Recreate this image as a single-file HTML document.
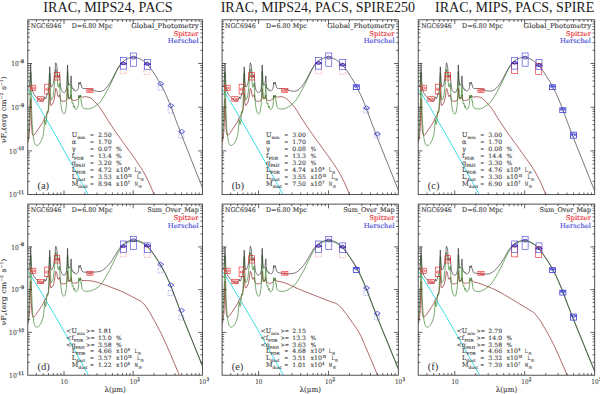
<!DOCTYPE html>
<html lang="en"><head><meta charset="utf-8"><title>NGC6946 SED fits</title>
<style>html,body{margin:0;padding:0;background:#fff}body{width:600px;height:394px;overflow:hidden}svg text{white-space:pre;stroke-width:.1px;paint-order:stroke fill}</style></head>
<body>
<svg width="600" height="394" viewBox="0 0 600 394" font-family="DejaVu Serif, DejaVu Sans, Liberation Serif, serif" style="display:block">
<rect width="600" height="394" fill="#fff"/>
<text x="43.3" y="12.3" font-family="'Liberation Serif',serif" font-size="14.4" fill="#1a1a1a" textLength="129.4" lengthAdjust="spacingAndGlyphs">IRAC, MIPS24, PACS</text>
<text x="220.7" y="12.3" font-family="'Liberation Serif',serif" font-size="14.4" fill="#1a1a1a" textLength="194.3" lengthAdjust="spacingAndGlyphs">IRAC, MIPS24, PACS, SPIRE250</text>
<text x="435.0" y="12.3" font-family="'Liberation Serif',serif" font-size="14.4" fill="#1a1a1a" textLength="159.3" lengthAdjust="spacingAndGlyphs">IRAC, MIPS, PACS, SPIRE</text>
<clipPath id="c00"><rect x="27.8" y="19.8" width="174.6" height="174.8"/></clipPath>
<g clip-path="url(#c00)">
<path d="M27.8,88.7 L33.5,97.7 L39.6,107.7 L53.6,131.7 L70.4,161.8 L91.4,200.5" fill="none" stroke="#27d9e4" stroke-width="0.9" stroke-linejoin="round"/>
<path d="M27.8,142.6 L28.4,140.4 L28.9,137.8 L29.5,131.0 L29.9,122.6 L30.5,102.1 L30.7,98.5 L31.4,121.4 L31.8,129.1 L32.1,132.3 L32.4,134.0 L32.9,135.0 L33.4,135.3 L34.2,134.9 L35.5,133.4 L42.2,123.2 L43.8,120.3 L44.7,117.2 L44.9,117.1 L45.3,117.3 L45.8,116.8 L46.4,115.4 L47.1,112.9 L47.2,112.7 L47.6,112.6 L48.0,112.0 L48.5,109.8 L48.9,106.5 L49.7,93.6 L49.8,94.2 L50.4,102.7 L50.8,105.2 L51.0,105.5 L51.2,105.5 L52.9,103.3 L53.7,101.2 L54.4,98.0 L54.9,94.7 L55.5,89.5 L55.8,88.4 L56.8,90.2 L57.5,94.9 L57.9,96.4 L58.2,96.6 L58.8,96.4 L59.4,94.7 L59.5,94.7 L60.2,98.5 L60.5,99.7 L61.1,100.7 L62.0,101.2 L63.2,101.3 L65.2,101.1 L66.2,100.4 L66.6,99.9 L66.9,98.6 L67.1,96.7 L67.5,88.5 L68.2,96.9 L68.5,98.4 L68.8,99.0 L69.5,98.7 L70.0,99.0 L70.3,98.8 L70.6,97.7 L71.1,94.9 L71.5,98.4 L71.9,99.9 L72.3,100.3 L73.0,100.1 L73.8,100.7 L74.1,100.7 L74.5,100.4 L75.0,100.6 L75.6,100.5 L77.6,99.4 L78.1,98.9 L78.5,98.4 L78.9,96.4 L79.0,96.3 L79.2,96.9 L79.3,97.0 L79.9,96.2 L80.3,96.0 L80.5,95.7 L81.0,96.7 L81.1,96.8 L81.4,96.6 L81.7,97.0 L82.1,97.2 L82.8,97.2 L85.1,96.7 L86.2,96.7 L88.0,97.0 L89.6,97.5 L91.4,98.5 L93.3,100.2 L97.3,104.4 L100.0,107.8 L101.6,110.0 L107.7,120.0 L115.1,131.2 L121.6,140.3 L133.5,156.8 L140.5,167.1 L142.6,170.5 L145.2,175.0 L148.7,181.9 L152.4,190.4 L156.1,200.5" fill="none" stroke="#8f2b2b" stroke-width="0.7" stroke-linejoin="round"/>
<path d="M27.8,140.5 L28.7,130.7 L29.4,118.3 L29.9,101.6 L30.5,76.3 L30.7,72.4 L31.7,112.3 L32.2,123.4 L32.7,131.5 L33.4,138.1 L34.3,142.4 L34.9,143.8 L35.5,144.9 L36.1,145.4 L36.9,145.5 L37.7,145.3 L38.4,144.8 L40.0,143.1 L41.4,140.5 L42.6,137.4 L43.3,134.7 L43.7,131.7 L44.7,119.4 L44.9,119.7 L45.5,124.3 L45.6,124.5 L45.7,124.4 L46.0,123.4 L46.4,120.0 L47.0,112.0 L47.1,111.6 L47.1,111.4 L47.2,111.4 L47.6,112.8 L47.7,112.9 L47.8,112.9 L48.0,111.5 L48.3,108.7 L48.8,98.7 L49.7,73.3 L49.9,75.9 L50.6,94.8 L50.8,98.4 L51.1,99.9 L51.2,100.1 L51.4,100.0 L51.9,98.9 L52.7,98.0 L53.0,96.9 L53.3,95.1 L54.5,84.4 L55.5,70.7 L55.7,69.5 L55.7,69.2 L55.9,69.2 L56.8,72.5 L57.6,83.8 L58.0,86.4 L58.2,87.1 L58.6,87.1 L58.8,87.0 L59.3,83.6 L59.4,83.2 L59.5,83.4 L60.6,101.1 L61.0,105.2 L61.5,108.5 L62.0,110.9 L62.6,112.5 L63.3,113.6 L63.7,113.8 L64.0,113.9 L64.4,113.7 L64.7,113.3 L65.4,111.8 L66.3,106.4 L66.5,104.5 L67.0,93.3 L67.5,71.6 L68.3,92.6 L68.7,98.0 L68.8,98.5 L69.0,98.5 L69.5,97.3 L70.0,98.3 L70.2,97.7 L70.5,94.1 L71.1,84.7 L71.6,96.7 L72.0,102.0 L72.3,103.6 L72.5,103.6 L72.9,103.0 L73.0,103.1 L73.8,107.3 L74.0,107.4 L74.1,107.3 L74.5,106.0 L75.1,108.8 L75.4,109.3 L75.6,109.5 L76.0,109.5 L76.5,109.2 L77.4,108.1 L78.0,106.5 L78.4,104.3 L78.7,101.1 L78.9,95.0 L79.3,98.1 L79.9,96.1 L80.1,96.0 L80.3,96.1 L80.5,95.0 L81.0,100.7 L81.2,101.3 L81.4,100.9 L81.9,105.2 L82.2,106.5 L82.6,107.4 L83.4,108.3 L84.5,108.7 L87.0,108.9 L89.2,108.8 L90.8,108.3 L92.6,107.7 L94.2,106.8 L96.0,105.7 L98.9,103.4 L100.1,102.1 L101.2,100.8 L104.1,96.1 L108.5,88.1 L110.6,84.0 L116.6,71.2 L118.0,68.5 L120.4,64.8 L121.8,63.2 L123.3,61.6" fill="none" stroke="#2f7d22" stroke-width="0.65" stroke-linejoin="round"/>
<path d="M27.8,86.5 L28.5,86.8 L28.7,86.8 L29.0,86.5 L29.4,85.5 L29.7,83.9 L30.1,78.4 L30.6,64.8 L30.7,63.6 L31.5,83.8 L31.9,87.9 L32.6,91.2 L33.2,92.7 L34.0,94.3 L35.3,96.0 L36.7,97.6 L38.3,99.0 L39.8,100.0 L41.2,100.7 L42.4,100.9 L43.3,100.6 L43.8,100.1 L44.1,99.2 L44.7,96.8 L45.4,98.5 L45.7,98.7 L45.9,98.5 L46.4,97.3 L47.1,93.7 L47.2,93.7 L47.7,94.4 L47.9,94.1 L48.1,93.4 L48.5,90.6 L48.8,86.4 L49.7,66.8 L49.9,69.0 L50.4,81.8 L50.8,86.1 L51.0,86.8 L51.3,87.0 L51.9,86.2 L52.6,85.7 L52.9,85.1 L53.5,82.6 L54.3,77.8 L54.9,72.4 L55.5,64.2 L55.8,62.8 L56.8,65.8 L57.6,74.4 L57.9,76.7 L58.2,77.3 L58.6,77.4 L58.8,77.2 L59.3,74.7 L59.4,74.4 L59.5,74.5 L60.3,84.1 L60.8,87.6 L61.1,89.1 L61.6,90.5 L62.2,91.5 L62.9,92.1 L63.5,92.4 L64.1,92.5 L64.7,92.3 L65.2,92.0 L65.6,91.2 L66.3,89.3 L66.5,88.4 L66.8,85.3 L67.0,81.7 L67.5,64.9 L68.2,80.3 L68.7,84.9 L68.8,85.2 L69.0,85.2 L69.5,84.5 L70.0,85.2 L70.2,84.8 L70.5,82.5 L71.1,75.8 L71.5,83.3 L71.9,87.1 L72.3,88.4 L72.5,88.4 L72.9,88.0 L73.0,88.1 L73.5,89.8 L73.8,90.3 L74.1,90.2 L74.5,89.5 L75.1,90.8 L75.4,91.0 L75.7,91.0 L76.6,90.6 L77.5,89.8 L78.1,88.8 L78.5,87.6 L78.9,82.4 L79.0,82.3 L79.2,83.9 L79.3,84.2 L79.9,82.9 L80.3,82.8 L80.5,82.1 L81.0,85.3 L81.2,85.6 L81.4,85.4 L81.9,87.6 L82.3,88.1 L82.7,88.4 L83.6,88.6 L86.4,88.6 L88.9,88.9 L91.1,89.4 L94.4,90.6 L96.2,91.1 L98.2,91.5 L99.8,91.6 L101.8,91.2 L103.6,90.3 L105.6,88.6 L107.6,86.3 L109.4,83.9 L111.0,81.3 L117.1,69.5 L118.6,67.0 L119.9,65.1 L121.3,63.4 L122.9,61.7 L124.3,60.5 L126.2,59.3 L128.5,58.2 L130.5,57.7 L132.6,57.4 L134.9,57.5 L137.1,57.9 L139.3,58.6 L141.5,59.7 L144.2,61.5 L146.6,63.7 L148.9,66.1 L151.3,69.4 L155.4,75.4 L158.9,81.0 L162.1,86.8 L165.0,92.6 L167.7,98.6 L170.9,106.5 L177.5,124.4 L182.9,138.5 L202.4,187.8" fill="none" stroke="#262626" stroke-width="0.62" stroke-linejoin="round"/>
</g>
<rect x="30.2" y="85.2" width="5.6" height="5.3" fill="none" stroke="#e8292b" stroke-width="0.65" opacity="1.0"/>
<path d="M30.9,88.1L33.0,86.7L35.1,88.1L33.0,89.5ZM30.9,88.1h4.2" fill="none" stroke="#e8292b" stroke-width="0.55"/>
<rect x="37.4" y="96.7" width="6.2" height="4.5" fill="none" stroke="#e8292b" stroke-width="0.65" opacity="1.0"/>
<path d="M38.1,99.1L40.5,97.7L42.9,99.1L40.5,100.5ZM38.1,99.1h4.8" fill="none" stroke="#e8292b" stroke-width="0.55"/>
<rect x="44.7" y="84.2" width="5.1" height="9.8" fill="none" stroke="#e8292b" stroke-width="0.65" opacity="1.0"/>
<path d="M45.4,89.3L47.2,87.9L49.1,89.3L47.2,90.7ZM45.4,89.3h3.7" fill="none" stroke="#e8292b" stroke-width="0.55"/>
<rect x="54.2" y="72.5" width="5.6" height="7.5" fill="none" stroke="#e8292b" stroke-width="0.65" opacity="1.0"/>
<path d="M54.9,76.5L57.0,75.1L59.1,76.5L57.0,77.9ZM54.9,76.5h4.2" fill="none" stroke="#e8292b" stroke-width="0.55"/>
<rect x="86.8" y="88.5" width="6.2" height="3.9" fill="none" stroke="#e8292b" stroke-width="0.65" opacity="1.0"/>
<path d="M87.5,90.7L89.9,89.5L92.3,90.7L89.9,91.9ZM87.5,90.7h4.8" fill="none" stroke="#e8292b" stroke-width="0.55"/>
<rect x="120.3" y="63.5" width="6.0" height="10.2" fill="none" stroke="#e8292b" stroke-width="0.55" stroke-dasharray="1,0.8" opacity="0.7"/>
<rect x="144.0" y="63.6" width="6.0" height="10.8" fill="none" stroke="#e8292b" stroke-width="0.55" stroke-dasharray="1,0.8" opacity="0.7"/>
<rect x="120.3" y="57.5" width="6.0" height="11.6" fill="none" stroke="#3b3bd6" stroke-width="0.6" opacity="1.0"/>
<rect x="130.5" y="53.0" width="6.0" height="13.2" fill="none" stroke="#3b3bd6" stroke-width="0.6" opacity="1.0"/>
<rect x="144.3" y="59.4" width="6.0" height="10.0" fill="none" stroke="#3b3bd6" stroke-width="0.6" opacity="1.0"/>
<path d="M120.0,63.8L123.3,61.6L126.6,63.8L123.3,64.8Z" fill="#3a1fb0" fill-opacity="0.45" stroke="#3a1fb0" stroke-width="0.9"/>
<path d="M144.0,64.3L147.3,62.1L150.6,64.3L147.3,65.3Z" fill="#3a1fb0" fill-opacity="0.45" stroke="#3a1fb0" stroke-width="0.9"/>
<ellipse cx="133.5" cy="57.6" rx="2.5" ry="1.4" fill="none" stroke="#3a1fb0" stroke-width="0.8"/>
<path d="M157.7,83.7L160.7,81.6L163.7,83.7L160.7,85.8Z" fill="none" stroke="#3b3bd6" stroke-width="0.85"/>
<rect x="158.0" y="85.1" width="4.8" height="5.0" fill="none" stroke="#3b3bd6" stroke-width="0.6" stroke-dasharray="1,0.8" opacity="0.7"/>
<path d="M167.8,105.6L170.8,103.5L173.8,105.6L170.8,107.7Z" fill="none" stroke="#3b3bd6" stroke-width="0.85"/>
<rect x="168.1" y="108.1" width="4.8" height="5.0" fill="none" stroke="#3b3bd6" stroke-width="0.6" stroke-dasharray="1,0.8" opacity="0.7"/>
<path d="M178.6,131.6L181.6,129.5L184.6,131.6L181.6,133.7Z" fill="none" stroke="#3b3bd6" stroke-width="0.85"/>
<rect x="178.9" y="133.1" width="4.8" height="5.0" fill="none" stroke="#3b3bd6" stroke-width="0.6" stroke-dasharray="1,0.8" opacity="0.7"/>
<rect x="27.8" y="19.8" width="174.6" height="174.8" fill="none" stroke="#333" stroke-width="0.85"/>
<path d="M36.4,194.6v-2.1M36.4,19.8v2.1M43.2,194.6v-2.1M43.2,19.8v2.1M48.6,194.6v-2.1M48.6,19.8v2.1M53.3,194.6v-2.1M53.3,19.8v2.1M57.3,194.6v-2.1M57.3,19.8v2.1M60.8,194.6v-2.1M60.8,19.8v2.1M64.0,194.6v-4.2M64.0,19.8v4.2M84.8,194.6v-2.1M84.8,19.8v2.1M97.0,194.6v-2.1M97.0,19.8v2.1M105.7,194.6v-2.1M105.7,19.8v2.1M112.4,194.6v-2.1M112.4,19.8v2.1M117.8,194.6v-2.1M117.8,19.8v2.1M122.5,194.6v-2.1M122.5,19.8v2.1M126.5,194.6v-2.1M126.5,19.8v2.1M130.0,194.6v-2.1M130.0,19.8v2.1M133.2,194.6v-4.2M133.2,19.8v4.2M154.0,194.6v-2.1M154.0,19.8v2.1M166.2,194.6v-2.1M166.2,19.8v2.1M174.9,194.6v-2.1M174.9,19.8v2.1M181.6,194.6v-2.1M181.6,19.8v2.1M187.0,194.6v-2.1M187.0,19.8v2.1M191.7,194.6v-2.1M191.7,19.8v2.1M195.7,194.6v-2.1M195.7,19.8v2.1M199.2,194.6v-2.1M199.2,19.8v2.1M27.8,181.4h2.1M202.4,181.4h-2.1M27.8,173.7h2.1M202.4,173.7h-2.1M27.8,168.3h2.1M202.4,168.3h-2.1M27.8,164.1h2.1M202.4,164.1h-2.1M27.8,160.6h2.1M202.4,160.6h-2.1M27.8,157.7h2.1M202.4,157.7h-2.1M27.8,155.1h2.1M202.4,155.1h-2.1M27.8,152.9h2.1M202.4,152.9h-2.1M27.8,150.9h4.2M202.4,150.9h-4.2M27.8,137.7h2.1M202.4,137.7h-2.1M27.8,130.0h2.1M202.4,130.0h-2.1M27.8,124.6h2.1M202.4,124.6h-2.1M27.8,120.4h2.1M202.4,120.4h-2.1M27.8,116.9h2.1M202.4,116.9h-2.1M27.8,114.0h2.1M202.4,114.0h-2.1M27.8,111.4h2.1M202.4,111.4h-2.1M27.8,109.2h2.1M202.4,109.2h-2.1M27.8,107.2h4.2M202.4,107.2h-4.2M27.8,94.0h2.1M202.4,94.0h-2.1M27.8,86.3h2.1M202.4,86.3h-2.1M27.8,80.9h2.1M202.4,80.9h-2.1M27.8,76.7h2.1M202.4,76.7h-2.1M27.8,73.2h2.1M202.4,73.2h-2.1M27.8,70.3h2.1M202.4,70.3h-2.1M27.8,67.7h2.1M202.4,67.7h-2.1M27.8,65.5h2.1M202.4,65.5h-2.1M27.8,63.5h4.2M202.4,63.5h-4.2M27.8,50.3h2.1M202.4,50.3h-2.1M27.8,42.6h2.1M202.4,42.6h-2.1M27.8,37.2h2.1M202.4,37.2h-2.1M27.8,33.0h2.1M202.4,33.0h-2.1M27.8,29.5h2.1M202.4,29.5h-2.1M27.8,26.6h2.1M202.4,26.6h-2.1M27.8,24.0h2.1M202.4,24.0h-2.1M27.8,21.8h2.1M202.4,21.8h-2.1" stroke="#222" stroke-width="0.7" fill="none"/>
<text x="30.8" y="27.8" font-size="6.70" fill="#3a3a3a" stroke="#3a3a3a" textLength="30.5" lengthAdjust="spacingAndGlyphs">NGC6946</text>
<text x="71.7" y="27.8" font-size="6.70" fill="#3a3a3a" stroke="#3a3a3a" textLength="40.8" lengthAdjust="spacingAndGlyphs">D=6.80 Mpc</text>
<text x="198.8" y="27.5" font-size="6.70" fill="#3a3a3a" stroke="#3a3a3a" text-anchor="end" textLength="67.5" lengthAdjust="spacingAndGlyphs">Global_Photometry</text>
<text x="198.7" y="35.5" font-size="6.70" fill="#e8292b" stroke="#e8292b" text-anchor="end" textLength="25.3" lengthAdjust="spacingAndGlyphs">Spitzer</text>
<text x="198.7" y="43.3" font-size="6.70" fill="#3b3bd6" stroke="#3b3bd6" text-anchor="end" textLength="30.9" lengthAdjust="spacingAndGlyphs">Herschel</text>
<text x="37.4" y="189.4" font-family="'Liberation Serif',serif" font-size="10.5" fill="#333">(a)</text>
<text x="71.7" y="137.1" font-size="6.48" fill="#3a3a3a" stroke="#3a3a3a">U<tspan font-size="4.28" dy="1.94">min</tspan></text>
<text x="89.9" y="137.1" font-size="6.00" fill="#3a3a3a" stroke="#3a3a3a" textLength="4.0" lengthAdjust="spacingAndGlyphs">=</text>
<text x="97.9" y="137.1" font-size="6.00" fill="#3a3a3a" stroke="#3a3a3a" textLength="13.8" lengthAdjust="spacingAndGlyphs">2.50</text>
<text x="71.7" y="144.1" font-size="6.48" fill="#3a3a3a" stroke="#3a3a3a">α</text>
<text x="89.9" y="144.1" font-size="6.00" fill="#3a3a3a" stroke="#3a3a3a" textLength="4.0" lengthAdjust="spacingAndGlyphs">=</text>
<text x="97.9" y="144.1" font-size="6.00" fill="#3a3a3a" stroke="#3a3a3a" textLength="13.8" lengthAdjust="spacingAndGlyphs">1.70</text>
<text x="71.7" y="151.2" font-size="6.48" fill="#3a3a3a" stroke="#3a3a3a">γ</text>
<text x="89.9" y="151.2" font-size="6.00" fill="#3a3a3a" stroke="#3a3a3a" textLength="4.0" lengthAdjust="spacingAndGlyphs">=</text>
<text x="97.9" y="151.2" font-size="6.00" fill="#3a3a3a" stroke="#3a3a3a" textLength="13.8" lengthAdjust="spacingAndGlyphs">0.07</text>
<text x="116.1" y="151.2" font-size="6.00" fill="#3a3a3a" stroke="#3a3a3a">%</text>
<text x="71.7" y="158.2" font-size="6.48" fill="#3a3a3a" stroke="#3a3a3a">f<tspan font-size="4.28" dy="1.94">PDR</tspan></text>
<text x="89.9" y="158.2" font-size="6.00" fill="#3a3a3a" stroke="#3a3a3a" textLength="4.0" lengthAdjust="spacingAndGlyphs">=</text>
<text x="97.9" y="158.2" font-size="6.00" fill="#3a3a3a" stroke="#3a3a3a" textLength="13.8" lengthAdjust="spacingAndGlyphs">13.4</text>
<text x="116.1" y="158.2" font-size="6.00" fill="#3a3a3a" stroke="#3a3a3a">%</text>
<text x="71.7" y="165.2" font-size="6.48" fill="#3a3a3a" stroke="#3a3a3a">q<tspan font-size="4.28" dy="1.94">PAH</tspan></text>
<text x="89.9" y="165.2" font-size="6.00" fill="#3a3a3a" stroke="#3a3a3a" textLength="4.0" lengthAdjust="spacingAndGlyphs">=</text>
<text x="97.9" y="165.2" font-size="6.00" fill="#3a3a3a" stroke="#3a3a3a" textLength="13.8" lengthAdjust="spacingAndGlyphs">3.20</text>
<text x="116.1" y="165.2" font-size="6.00" fill="#3a3a3a" stroke="#3a3a3a">%</text>
<text x="71.7" y="172.2" font-size="6.48" fill="#3a3a3a" stroke="#3a3a3a">L<tspan font-size="4.28" dy="1.94">PDR</tspan></text>
<text x="89.9" y="172.2" font-size="6.00" fill="#3a3a3a" stroke="#3a3a3a" textLength="4.0" lengthAdjust="spacingAndGlyphs">=</text>
<text x="97.9" y="172.2" font-size="6.00" fill="#3a3a3a" stroke="#3a3a3a" textLength="13.8" lengthAdjust="spacingAndGlyphs">4.72</text>
<text x="116.1" y="172.2" font-size="6.30" fill="#3a3a3a" stroke="#3a3a3a" textLength="11.6" lengthAdjust="spacingAndGlyphs">x10</text>
<text x="128.1" y="170.1" font-size="4.20" fill="#3a3a3a" stroke="#3a3a3a" textLength="1.7" lengthAdjust="spacingAndGlyphs" style="stroke-width:.22px">9</text>
<text x="134.4" y="172.2" font-size="6.00" fill="#3a3a3a" stroke="#3a3a3a" textLength="2.9" lengthAdjust="spacingAndGlyphs">L</text>
<text x="137.8" y="174.3" font-size="3.72" fill="#3a3a3a" stroke="#3a3a3a" style="stroke-width:.2px">☉</text>
<text x="71.7" y="179.3" font-size="6.48" fill="#3a3a3a" stroke="#3a3a3a">L<tspan font-size="4.28" dy="1.94">dust</tspan></text>
<text x="89.9" y="179.3" font-size="6.00" fill="#3a3a3a" stroke="#3a3a3a" textLength="4.0" lengthAdjust="spacingAndGlyphs">=</text>
<text x="97.9" y="179.3" font-size="6.00" fill="#3a3a3a" stroke="#3a3a3a" textLength="13.8" lengthAdjust="spacingAndGlyphs">3.53</text>
<text x="116.1" y="179.3" font-size="6.30" fill="#3a3a3a" stroke="#3a3a3a" textLength="11.6" lengthAdjust="spacingAndGlyphs">x10</text>
<text x="128.1" y="177.1" font-size="4.20" fill="#3a3a3a" stroke="#3a3a3a" textLength="3.5" lengthAdjust="spacingAndGlyphs" style="stroke-width:.22px">10</text>
<text x="137.1" y="179.3" font-size="6.00" fill="#3a3a3a" stroke="#3a3a3a" textLength="2.9" lengthAdjust="spacingAndGlyphs">L</text>
<text x="140.5" y="181.3" font-size="3.72" fill="#3a3a3a" stroke="#3a3a3a" style="stroke-width:.2px">☉</text>
<text x="71.7" y="186.3" font-size="6.48" fill="#3a3a3a" stroke="#3a3a3a">M<tspan font-size="4.28" dy="1.94">dust</tspan></text>
<text x="89.9" y="186.3" font-size="6.00" fill="#3a3a3a" stroke="#3a3a3a" textLength="4.0" lengthAdjust="spacingAndGlyphs">=</text>
<text x="97.9" y="186.3" font-size="6.00" fill="#3a3a3a" stroke="#3a3a3a" textLength="13.8" lengthAdjust="spacingAndGlyphs">8.94</text>
<text x="116.1" y="186.3" font-size="6.30" fill="#3a3a3a" stroke="#3a3a3a" textLength="11.6" lengthAdjust="spacingAndGlyphs">x10</text>
<text x="128.1" y="184.2" font-size="4.20" fill="#3a3a3a" stroke="#3a3a3a" textLength="1.7" lengthAdjust="spacingAndGlyphs" style="stroke-width:.22px">7</text>
<text x="134.4" y="186.3" font-size="6.00" fill="#3a3a3a" stroke="#3a3a3a" textLength="3.5" lengthAdjust="spacingAndGlyphs">M</text>
<text x="138.4" y="188.3" font-size="3.72" fill="#3a3a3a" stroke="#3a3a3a" style="stroke-width:.2px">☉</text>
<text x="18.9" y="66.1" font-size="6.90" fill="#3a3a3a" stroke="#3a3a3a" text-anchor="end" textLength="7.6" lengthAdjust="spacingAndGlyphs">10</text>
<text x="19.3" y="62.9" font-size="4.90" fill="#3a3a3a" stroke="#3a3a3a" textLength="4.7" lengthAdjust="spacingAndGlyphs" style="stroke-width:.25px">-8</text>
<text x="18.9" y="109.8" font-size="6.90" fill="#3a3a3a" stroke="#3a3a3a" text-anchor="end" textLength="7.6" lengthAdjust="spacingAndGlyphs">10</text>
<text x="19.3" y="106.6" font-size="4.90" fill="#3a3a3a" stroke="#3a3a3a" textLength="4.7" lengthAdjust="spacingAndGlyphs" style="stroke-width:.25px">-9</text>
<text x="16.7" y="153.5" font-size="6.90" fill="#3a3a3a" stroke="#3a3a3a" text-anchor="end" textLength="7.6" lengthAdjust="spacingAndGlyphs">10</text>
<text x="17.1" y="150.3" font-size="4.90" fill="#3a3a3a" stroke="#3a3a3a" textLength="6.9" lengthAdjust="spacingAndGlyphs" style="stroke-width:.25px">-10</text>
<text x="16.7" y="197.2" font-size="6.90" fill="#3a3a3a" stroke="#3a3a3a" text-anchor="end" textLength="7.6" lengthAdjust="spacingAndGlyphs">10</text>
<text x="17.1" y="194.0" font-size="4.90" fill="#3a3a3a" stroke="#3a3a3a" textLength="6.9" lengthAdjust="spacingAndGlyphs" style="stroke-width:.25px">-11</text>
<text transform="translate(5.6,143.2) rotate(-90)" font-size="6.8" fill="#3a3a3a" stroke="#3a3a3a" textLength="67" lengthAdjust="spacingAndGlyphs">νF<tspan font-size="4" dy="1.6">ν</tspan><tspan dy="-1.6">(erg cm</tspan><tspan font-size="4" dy="-2.2">−2</tspan><tspan dy="2.2"> s</tspan><tspan font-size="4" dy="-2.2">−1</tspan><tspan dy="2.2">)</tspan></text>
<clipPath id="c01"><rect x="222.1" y="19.8" width="176.2" height="174.8"/></clipPath>
<g clip-path="url(#c01)">
<path d="M222.1,88.7 L227.9,97.7 L234.0,107.7 L248.1,131.7 L265.1,161.8 L286.3,200.5" fill="none" stroke="#27d9e4" stroke-width="0.9" stroke-linejoin="round"/>
<path d="M222.1,142.6 L222.7,140.4 L223.2,137.8 L223.9,131.0 L224.3,122.6 L224.8,102.1 L225.0,98.5 L225.7,121.4 L226.1,129.1 L226.4,132.3 L226.8,134.0 L227.3,135.0 L227.8,135.3 L228.6,134.9 L229.8,133.4 L236.6,123.2 L238.2,120.3 L239.2,117.2 L239.3,117.1 L239.8,117.3 L240.3,116.8 L240.9,115.4 L241.6,112.9 L241.7,112.7 L242.1,112.6 L242.4,112.0 L243.0,109.8 L243.4,106.5 L244.2,93.6 L244.3,94.2 L244.9,102.7 L245.3,105.2 L245.5,105.5 L245.8,105.5 L247.5,103.3 L248.2,101.2 L248.9,98.0 L249.5,94.7 L250.1,89.5 L250.4,88.4 L251.3,90.2 L252.1,94.9 L252.5,96.4 L252.7,96.6 L253.4,96.4 L254.0,94.7 L254.1,94.7 L254.8,98.5 L255.1,99.7 L255.7,100.7 L256.6,101.2 L257.8,101.3 L259.8,101.1 L260.9,100.4 L261.2,99.9 L261.6,98.6 L261.8,96.7 L262.2,88.5 L262.9,96.9 L263.2,98.4 L263.5,99.0 L264.1,98.7 L264.7,99.0 L264.9,98.8 L265.3,97.7 L265.8,94.9 L266.2,98.4 L266.6,99.9 L267.0,100.3 L267.7,100.1 L268.5,100.7 L268.8,100.7 L269.2,100.4 L269.8,100.6 L270.4,100.5 L272.3,99.4 L272.9,98.9 L273.2,98.4 L273.7,96.4 L273.8,96.3 L274.0,96.9 L274.1,97.0 L274.7,96.2 L275.1,96.0 L275.3,95.7 L275.8,96.7 L275.9,96.8 L276.2,96.6 L276.5,97.0 L276.9,97.2 L277.6,97.2 L279.9,96.7 L281.1,96.7 L282.8,97.0 L284.5,97.5 L286.2,98.5 L288.2,100.2 L292.2,104.4 L295.0,107.8 L296.5,110.0 L302.7,120.0 L310.2,131.2 L316.7,140.3 L328.7,156.8 L335.9,167.1 L338.0,170.5 L340.6,175.0 L344.1,181.9 L347.8,190.4 L351.6,200.5" fill="none" stroke="#8f2b2b" stroke-width="0.7" stroke-linejoin="round"/>
<path d="M222.1,140.5 L223.0,130.7 L223.7,118.3 L224.3,101.6 L224.8,76.3 L225.0,72.4 L226.0,112.3 L226.5,123.4 L227.0,131.5 L227.8,138.1 L228.7,142.4 L229.2,143.8 L229.8,144.9 L230.5,145.4 L231.3,145.5 L232.1,145.3 L232.8,144.8 L234.4,143.1 L235.9,140.5 L237.0,137.4 L237.7,134.7 L238.2,131.7 L239.2,119.4 L239.3,119.7 L239.9,124.3 L240.1,124.5 L240.2,124.4 L240.5,123.4 L240.9,120.0 L241.5,112.0 L241.6,111.6 L241.6,111.4 L241.7,111.4 L242.0,112.8 L242.2,112.9 L242.2,112.9 L242.5,111.5 L242.8,108.7 L243.3,98.7 L244.2,73.3 L244.4,75.9 L245.1,94.8 L245.4,98.4 L245.6,99.9 L245.8,100.1 L245.9,100.0 L246.4,98.9 L247.2,98.0 L247.5,96.9 L247.9,95.1 L249.1,84.4 L250.1,70.7 L250.2,69.5 L250.3,69.2 L250.4,69.2 L251.3,72.5 L252.2,83.8 L252.5,86.4 L252.8,87.1 L253.2,87.1 L253.4,87.0 L253.9,83.6 L254.0,83.2 L254.1,83.4 L255.2,101.1 L255.6,105.2 L256.1,108.5 L256.6,110.9 L257.2,112.5 L258.0,113.6 L258.4,113.9 L258.7,113.9 L259.1,113.7 L259.5,113.2 L260.0,111.8 L260.9,106.4 L261.2,104.5 L261.7,93.3 L262.2,71.6 L263.0,92.6 L263.4,98.0 L263.5,98.5 L263.7,98.5 L264.1,97.3 L264.7,98.3 L264.9,97.7 L265.2,94.1 L265.8,84.7 L266.3,96.7 L266.7,102.0 L267.0,103.6 L267.3,103.6 L267.6,103.0 L267.7,103.1 L268.5,107.3 L268.7,107.4 L268.8,107.3 L269.2,106.0 L269.8,108.8 L270.1,109.3 L270.4,109.5 L270.8,109.5 L271.3,109.2 L272.1,108.1 L272.7,106.5 L273.1,104.3 L273.4,101.1 L273.7,95.0 L274.1,98.1 L274.7,96.1 L274.8,96.0 L275.1,96.1 L275.3,95.0 L275.8,100.7 L276.0,101.3 L276.2,100.9 L276.7,105.2 L277.0,106.5 L277.4,107.4 L278.2,108.3 L279.3,108.7 L281.9,109.0 L284.0,108.8 L285.4,108.4 L287.0,107.7 L291.0,105.2 L293.6,103.1 L295.7,100.7 L298.7,95.8 L303.0,88.1 L305.1,84.0 L311.2,71.2 L312.7,68.4 L314.0,66.3 L315.4,64.4 L316.9,62.6 L318.4,61.2" fill="none" stroke="#2f7d22" stroke-width="0.65" stroke-linejoin="round"/>
<path d="M222.1,86.5 L222.8,86.8 L223.0,86.8 L223.3,86.5 L223.7,85.5 L224.0,83.9 L224.4,78.4 L224.9,64.8 L225.0,63.6 L225.8,83.8 L226.2,87.9 L226.9,91.2 L227.5,92.7 L228.4,94.3 L229.6,96.0 L231.1,97.6 L232.7,99.0 L234.2,100.0 L235.7,100.7 L236.9,100.9 L237.7,100.6 L238.2,100.1 L238.6,99.2 L239.2,96.8 L239.9,98.5 L240.1,98.7 L240.4,98.5 L240.9,97.3 L241.6,93.7 L241.7,93.7 L242.2,94.4 L242.4,94.1 L242.6,93.4 L243.0,90.6 L243.3,86.4 L244.2,66.8 L244.4,69.0 L244.9,81.8 L245.4,86.1 L245.6,86.8 L245.8,87.0 L246.4,86.2 L247.1,85.7 L247.5,85.1 L248.1,82.6 L248.8,77.8 L249.4,72.4 L250.1,64.2 L250.4,62.8 L251.3,65.8 L252.1,74.4 L252.5,76.7 L252.7,77.3 L253.2,77.4 L253.4,77.2 L253.9,74.7 L254.0,74.4 L254.1,74.5 L254.9,84.1 L255.4,87.6 L255.7,89.1 L256.2,90.5 L256.8,91.5 L257.5,92.1 L258.1,92.4 L258.8,92.5 L259.3,92.3 L259.8,92.0 L260.3,91.2 L260.6,90.0 L260.9,89.3 L261.2,88.4 L261.5,85.3 L261.7,81.7 L262.2,64.9 L262.9,80.3 L263.4,84.9 L263.5,85.2 L263.7,85.2 L264.1,84.5 L264.7,85.2 L264.9,84.8 L265.2,82.5 L265.8,75.8 L266.2,83.3 L266.6,87.1 L267.0,88.4 L267.3,88.4 L267.6,88.0 L267.7,88.1 L268.3,89.8 L268.5,90.3 L268.8,90.2 L269.2,89.5 L269.8,90.8 L270.1,91.0 L270.4,91.0 L271.4,90.6 L272.3,89.8 L272.9,88.8 L273.2,87.6 L273.7,82.4 L273.8,82.3 L274.0,83.9 L274.1,84.2 L274.7,82.9 L275.1,82.8 L275.3,82.1 L275.8,85.3 L276.0,85.6 L276.2,85.4 L276.7,87.6 L277.1,88.1 L277.5,88.4 L278.4,88.6 L281.1,88.6 L283.5,88.9 L286.0,89.4 L291.0,90.9 L292.7,91.2 L294.2,91.3 L296.1,90.9 L298.0,90.0 L300.1,88.4 L302.1,86.2 L303.9,83.7 L305.6,81.1 L311.7,69.4 L313.2,66.9 L314.5,65.1 L315.9,63.4 L317.6,61.7 L318.9,60.5 L320.9,59.3 L323.3,58.2 L325.3,57.6 L327.4,57.3 L329.6,57.4 L331.7,57.9 L333.8,58.7 L336.1,59.8 L338.8,61.6 L341.3,63.8 L343.5,66.3 L346.0,69.5 L350.2,75.7 L353.6,81.2 L356.9,87.1 L359.7,92.8 L362.4,98.8 L365.6,106.5 L372.2,124.3 L377.7,138.6 L398.3,190.1" fill="none" stroke="#262626" stroke-width="0.62" stroke-linejoin="round"/>
</g>
<rect x="224.5" y="85.2" width="5.6" height="5.3" fill="none" stroke="#e8292b" stroke-width="0.65" opacity="1.0"/>
<path d="M225.2,88.1L227.3,86.7L229.4,88.1L227.3,89.5ZM225.2,88.1h4.2" fill="none" stroke="#e8292b" stroke-width="0.55"/>
<rect x="231.8" y="96.7" width="6.2" height="4.5" fill="none" stroke="#e8292b" stroke-width="0.65" opacity="1.0"/>
<path d="M232.5,99.1L234.9,97.7L237.3,99.1L234.9,100.5ZM232.5,99.1h4.8" fill="none" stroke="#e8292b" stroke-width="0.55"/>
<rect x="239.1" y="84.2" width="5.1" height="9.8" fill="none" stroke="#e8292b" stroke-width="0.65" opacity="1.0"/>
<path d="M239.8,89.3L241.7,87.9L243.5,89.3L241.7,90.7ZM239.8,89.3h3.7" fill="none" stroke="#e8292b" stroke-width="0.55"/>
<rect x="248.8" y="72.5" width="5.6" height="7.5" fill="none" stroke="#e8292b" stroke-width="0.65" opacity="1.0"/>
<path d="M249.5,76.5L251.6,75.1L253.7,76.5L251.6,77.9ZM249.5,76.5h4.2" fill="none" stroke="#e8292b" stroke-width="0.55"/>
<rect x="281.7" y="88.5" width="6.2" height="3.9" fill="none" stroke="#e8292b" stroke-width="0.65" opacity="1.0"/>
<path d="M282.4,90.7L284.8,89.5L287.2,90.7L284.8,91.9ZM282.4,90.7h4.8" fill="none" stroke="#e8292b" stroke-width="0.55"/>
<rect x="315.5" y="63.5" width="6.0" height="10.2" fill="none" stroke="#e8292b" stroke-width="0.55" stroke-dasharray="1,0.8" opacity="0.7"/>
<rect x="339.4" y="63.6" width="6.0" height="10.8" fill="none" stroke="#e8292b" stroke-width="0.55" stroke-dasharray="1,0.8" opacity="0.7"/>
<rect x="315.5" y="57.5" width="6.0" height="11.6" fill="none" stroke="#3b3bd6" stroke-width="0.6" opacity="1.0"/>
<rect x="325.8" y="53.0" width="6.0" height="13.2" fill="none" stroke="#3b3bd6" stroke-width="0.6" opacity="1.0"/>
<rect x="339.7" y="59.4" width="6.0" height="10.0" fill="none" stroke="#3b3bd6" stroke-width="0.6" opacity="1.0"/>
<path d="M315.2,63.4L318.5,61.2L321.8,63.4L318.5,64.4Z" fill="#3a1fb0" fill-opacity="0.45" stroke="#3a1fb0" stroke-width="0.9"/>
<path d="M339.4,65.2L342.7,63.0L346.0,65.2L342.7,66.2Z" fill="#3a1fb0" fill-opacity="0.45" stroke="#3a1fb0" stroke-width="0.9"/>
<ellipse cx="328.8" cy="57.6" rx="2.5" ry="1.4" fill="none" stroke="#3a1fb0" stroke-width="0.8"/>
<rect x="353.3" y="84.8" width="6.0" height="4.8" fill="none" stroke="#3b3bd6" stroke-width="0.8" opacity="1.0"/>
<path d="M353.7,86.2L356.3,84.6L358.9,86.2L356.3,87.8ZM353.7,86.2h5.2" fill="none" stroke="#3b3bd6" stroke-width="0.75"/>
<path d="M363.5,107.9L366.5,105.8L369.5,107.9L366.5,110.0Z" fill="none" stroke="#3b3bd6" stroke-width="0.85"/>
<rect x="363.8" y="108.1" width="4.8" height="5.0" fill="none" stroke="#3b3bd6" stroke-width="0.6" stroke-dasharray="1,0.8" opacity="0.7"/>
<path d="M374.3,133.9L377.3,131.8L380.3,133.9L377.3,136.0Z" fill="none" stroke="#3b3bd6" stroke-width="0.85"/>
<rect x="374.6" y="133.1" width="4.8" height="5.0" fill="none" stroke="#3b3bd6" stroke-width="0.6" stroke-dasharray="1,0.8" opacity="0.7"/>
<rect x="222.1" y="19.8" width="176.2" height="174.8" fill="none" stroke="#333" stroke-width="0.85"/>
<path d="M230.8,194.6v-2.1M230.8,19.8v2.1M237.6,194.6v-2.1M237.6,19.8v2.1M243.1,194.6v-2.1M243.1,19.8v2.1M247.8,194.6v-2.1M247.8,19.8v2.1M251.9,194.6v-2.1M251.9,19.8v2.1M255.4,194.6v-2.1M255.4,19.8v2.1M258.6,194.6v-4.2M258.6,19.8v4.2M279.6,194.6v-2.1M279.6,19.8v2.1M291.9,194.6v-2.1M291.9,19.8v2.1M300.7,194.6v-2.1M300.7,19.8v2.1M307.4,194.6v-2.1M307.4,19.8v2.1M313.0,194.6v-2.1M313.0,19.8v2.1M317.6,194.6v-2.1M317.6,19.8v2.1M321.7,194.6v-2.1M321.7,19.8v2.1M325.3,194.6v-2.1M325.3,19.8v2.1M328.5,194.6v-4.2M328.5,19.8v4.2M349.5,194.6v-2.1M349.5,19.8v2.1M361.8,194.6v-2.1M361.8,19.8v2.1M370.5,194.6v-2.1M370.5,19.8v2.1M377.3,194.6v-2.1M377.3,19.8v2.1M382.8,194.6v-2.1M382.8,19.8v2.1M387.5,194.6v-2.1M387.5,19.8v2.1M391.5,194.6v-2.1M391.5,19.8v2.1M395.1,194.6v-2.1M395.1,19.8v2.1M222.1,181.4h2.1M398.3,181.4h-2.1M222.1,173.7h2.1M398.3,173.7h-2.1M222.1,168.3h2.1M398.3,168.3h-2.1M222.1,164.1h2.1M398.3,164.1h-2.1M222.1,160.6h2.1M398.3,160.6h-2.1M222.1,157.7h2.1M398.3,157.7h-2.1M222.1,155.1h2.1M398.3,155.1h-2.1M222.1,152.9h2.1M398.3,152.9h-2.1M222.1,150.9h4.2M398.3,150.9h-4.2M222.1,137.7h2.1M398.3,137.7h-2.1M222.1,130.0h2.1M398.3,130.0h-2.1M222.1,124.6h2.1M398.3,124.6h-2.1M222.1,120.4h2.1M398.3,120.4h-2.1M222.1,116.9h2.1M398.3,116.9h-2.1M222.1,114.0h2.1M398.3,114.0h-2.1M222.1,111.4h2.1M398.3,111.4h-2.1M222.1,109.2h2.1M398.3,109.2h-2.1M222.1,107.2h4.2M398.3,107.2h-4.2M222.1,94.0h2.1M398.3,94.0h-2.1M222.1,86.3h2.1M398.3,86.3h-2.1M222.1,80.9h2.1M398.3,80.9h-2.1M222.1,76.7h2.1M398.3,76.7h-2.1M222.1,73.2h2.1M398.3,73.2h-2.1M222.1,70.3h2.1M398.3,70.3h-2.1M222.1,67.7h2.1M398.3,67.7h-2.1M222.1,65.5h2.1M398.3,65.5h-2.1M222.1,63.5h4.2M398.3,63.5h-4.2M222.1,50.3h2.1M398.3,50.3h-2.1M222.1,42.6h2.1M398.3,42.6h-2.1M222.1,37.2h2.1M398.3,37.2h-2.1M222.1,33.0h2.1M398.3,33.0h-2.1M222.1,29.5h2.1M398.3,29.5h-2.1M222.1,26.6h2.1M398.3,26.6h-2.1M222.1,24.0h2.1M398.3,24.0h-2.1M222.1,21.8h2.1M398.3,21.8h-2.1" stroke="#222" stroke-width="0.7" fill="none"/>
<text x="225.1" y="27.8" font-size="6.70" fill="#3a3a3a" stroke="#3a3a3a" textLength="30.5" lengthAdjust="spacingAndGlyphs">NGC6946</text>
<text x="266.0" y="27.8" font-size="6.70" fill="#3a3a3a" stroke="#3a3a3a" textLength="40.8" lengthAdjust="spacingAndGlyphs">D=6.80 Mpc</text>
<text x="394.7" y="27.5" font-size="6.70" fill="#3a3a3a" stroke="#3a3a3a" text-anchor="end" textLength="67.5" lengthAdjust="spacingAndGlyphs">Global_Photometry</text>
<text x="394.6" y="35.5" font-size="6.70" fill="#e8292b" stroke="#e8292b" text-anchor="end" textLength="25.3" lengthAdjust="spacingAndGlyphs">Spitzer</text>
<text x="394.6" y="43.3" font-size="6.70" fill="#3b3bd6" stroke="#3b3bd6" text-anchor="end" textLength="30.9" lengthAdjust="spacingAndGlyphs">Herschel</text>
<text x="231.7" y="189.4" font-family="'Liberation Serif',serif" font-size="10.5" fill="#333">(b)</text>
<text x="266.0" y="137.1" font-size="6.48" fill="#3a3a3a" stroke="#3a3a3a">U<tspan font-size="4.28" dy="1.94">min</tspan></text>
<text x="284.2" y="137.1" font-size="6.00" fill="#3a3a3a" stroke="#3a3a3a" textLength="4.0" lengthAdjust="spacingAndGlyphs">=</text>
<text x="292.2" y="137.1" font-size="6.00" fill="#3a3a3a" stroke="#3a3a3a" textLength="13.8" lengthAdjust="spacingAndGlyphs">3.00</text>
<text x="266.0" y="144.1" font-size="6.48" fill="#3a3a3a" stroke="#3a3a3a">α</text>
<text x="284.2" y="144.1" font-size="6.00" fill="#3a3a3a" stroke="#3a3a3a" textLength="4.0" lengthAdjust="spacingAndGlyphs">=</text>
<text x="292.2" y="144.1" font-size="6.00" fill="#3a3a3a" stroke="#3a3a3a" textLength="13.8" lengthAdjust="spacingAndGlyphs">1.70</text>
<text x="266.0" y="151.2" font-size="6.48" fill="#3a3a3a" stroke="#3a3a3a">γ</text>
<text x="284.2" y="151.2" font-size="6.00" fill="#3a3a3a" stroke="#3a3a3a" textLength="4.0" lengthAdjust="spacingAndGlyphs">=</text>
<text x="292.2" y="151.2" font-size="6.00" fill="#3a3a3a" stroke="#3a3a3a" textLength="13.8" lengthAdjust="spacingAndGlyphs">0.08</text>
<text x="310.4" y="151.2" font-size="6.00" fill="#3a3a3a" stroke="#3a3a3a">%</text>
<text x="266.0" y="158.2" font-size="6.48" fill="#3a3a3a" stroke="#3a3a3a">f<tspan font-size="4.28" dy="1.94">PDR</tspan></text>
<text x="284.2" y="158.2" font-size="6.00" fill="#3a3a3a" stroke="#3a3a3a" textLength="4.0" lengthAdjust="spacingAndGlyphs">=</text>
<text x="292.2" y="158.2" font-size="6.00" fill="#3a3a3a" stroke="#3a3a3a" textLength="13.8" lengthAdjust="spacingAndGlyphs">13.3</text>
<text x="310.4" y="158.2" font-size="6.00" fill="#3a3a3a" stroke="#3a3a3a">%</text>
<text x="266.0" y="165.2" font-size="6.48" fill="#3a3a3a" stroke="#3a3a3a">q<tspan font-size="4.28" dy="1.94">PAH</tspan></text>
<text x="284.2" y="165.2" font-size="6.00" fill="#3a3a3a" stroke="#3a3a3a" textLength="4.0" lengthAdjust="spacingAndGlyphs">=</text>
<text x="292.2" y="165.2" font-size="6.00" fill="#3a3a3a" stroke="#3a3a3a" textLength="13.8" lengthAdjust="spacingAndGlyphs">3.20</text>
<text x="310.4" y="165.2" font-size="6.00" fill="#3a3a3a" stroke="#3a3a3a">%</text>
<text x="266.0" y="172.2" font-size="6.48" fill="#3a3a3a" stroke="#3a3a3a">L<tspan font-size="4.28" dy="1.94">PDR</tspan></text>
<text x="284.2" y="172.2" font-size="6.00" fill="#3a3a3a" stroke="#3a3a3a" textLength="4.0" lengthAdjust="spacingAndGlyphs">=</text>
<text x="292.2" y="172.2" font-size="6.00" fill="#3a3a3a" stroke="#3a3a3a" textLength="13.8" lengthAdjust="spacingAndGlyphs">4.74</text>
<text x="310.4" y="172.2" font-size="6.30" fill="#3a3a3a" stroke="#3a3a3a" textLength="11.6" lengthAdjust="spacingAndGlyphs">x10</text>
<text x="322.4" y="170.1" font-size="4.20" fill="#3a3a3a" stroke="#3a3a3a" textLength="1.7" lengthAdjust="spacingAndGlyphs" style="stroke-width:.22px">9</text>
<text x="328.7" y="172.2" font-size="6.00" fill="#3a3a3a" stroke="#3a3a3a" textLength="2.9" lengthAdjust="spacingAndGlyphs">L</text>
<text x="332.1" y="174.3" font-size="3.72" fill="#3a3a3a" stroke="#3a3a3a" style="stroke-width:.2px">☉</text>
<text x="266.0" y="179.3" font-size="6.48" fill="#3a3a3a" stroke="#3a3a3a">L<tspan font-size="4.28" dy="1.94">dust</tspan></text>
<text x="284.2" y="179.3" font-size="6.00" fill="#3a3a3a" stroke="#3a3a3a" textLength="4.0" lengthAdjust="spacingAndGlyphs">=</text>
<text x="292.2" y="179.3" font-size="6.00" fill="#3a3a3a" stroke="#3a3a3a" textLength="13.8" lengthAdjust="spacingAndGlyphs">3.55</text>
<text x="310.4" y="179.3" font-size="6.30" fill="#3a3a3a" stroke="#3a3a3a" textLength="11.6" lengthAdjust="spacingAndGlyphs">x10</text>
<text x="322.4" y="177.1" font-size="4.20" fill="#3a3a3a" stroke="#3a3a3a" textLength="3.5" lengthAdjust="spacingAndGlyphs" style="stroke-width:.22px">10</text>
<text x="331.4" y="179.3" font-size="6.00" fill="#3a3a3a" stroke="#3a3a3a" textLength="2.9" lengthAdjust="spacingAndGlyphs">L</text>
<text x="334.8" y="181.3" font-size="3.72" fill="#3a3a3a" stroke="#3a3a3a" style="stroke-width:.2px">☉</text>
<text x="266.0" y="186.3" font-size="6.48" fill="#3a3a3a" stroke="#3a3a3a">M<tspan font-size="4.28" dy="1.94">dust</tspan></text>
<text x="284.2" y="186.3" font-size="6.00" fill="#3a3a3a" stroke="#3a3a3a" textLength="4.0" lengthAdjust="spacingAndGlyphs">=</text>
<text x="292.2" y="186.3" font-size="6.00" fill="#3a3a3a" stroke="#3a3a3a" textLength="13.8" lengthAdjust="spacingAndGlyphs">7.50</text>
<text x="310.4" y="186.3" font-size="6.30" fill="#3a3a3a" stroke="#3a3a3a" textLength="11.6" lengthAdjust="spacingAndGlyphs">x10</text>
<text x="322.4" y="184.2" font-size="4.20" fill="#3a3a3a" stroke="#3a3a3a" textLength="1.7" lengthAdjust="spacingAndGlyphs" style="stroke-width:.22px">7</text>
<text x="328.7" y="186.3" font-size="6.00" fill="#3a3a3a" stroke="#3a3a3a" textLength="3.5" lengthAdjust="spacingAndGlyphs">M</text>
<text x="332.7" y="188.3" font-size="3.72" fill="#3a3a3a" stroke="#3a3a3a" style="stroke-width:.2px">☉</text>
<clipPath id="c02"><rect x="418.2" y="19.8" width="176.5" height="174.8"/></clipPath>
<g clip-path="url(#c02)">
<path d="M418.2,88.7 L424.0,97.7 L430.2,107.7 L444.3,131.7 L461.3,161.8 L482.5,200.5" fill="none" stroke="#27d9e4" stroke-width="0.9" stroke-linejoin="round"/>
<path d="M418.2,142.6 L418.8,140.4 L419.3,137.8 L420.0,131.0 L420.4,122.6 L420.9,102.1 L421.1,98.5 L421.8,121.4 L422.2,129.1 L422.5,132.3 L422.9,134.0 L423.4,135.0 L423.9,135.3 L424.7,134.9 L425.9,133.4 L432.7,123.2 L434.4,120.3 L435.3,117.2 L435.4,117.1 L435.9,117.3 L436.4,116.8 L437.0,115.4 L437.7,112.9 L437.8,112.7 L438.2,112.6 L438.6,112.0 L439.1,109.8 L439.5,106.5 L440.3,93.6 L440.5,94.2 L441.0,102.7 L441.4,105.2 L441.6,105.5 L441.9,105.5 L443.6,103.3 L444.3,101.2 L445.1,98.0 L445.6,94.7 L446.2,89.5 L446.5,88.4 L447.5,90.2 L448.2,94.9 L448.6,96.4 L448.9,96.6 L449.5,96.4 L450.1,94.7 L450.3,94.7 L450.9,98.5 L451.3,99.7 L451.9,100.7 L452.8,101.2 L454.0,101.3 L456.0,101.1 L457.0,100.4 L457.4,99.9 L457.7,98.6 L457.9,96.7 L458.3,88.5 L459.1,96.9 L459.4,98.4 L459.7,99.0 L460.3,98.7 L460.8,99.0 L461.1,98.8 L461.5,97.7 L462.0,94.9 L462.4,98.4 L462.8,99.9 L463.2,100.3 L463.9,100.1 L464.7,100.7 L465.0,100.7 L465.4,100.4 L465.9,100.6 L466.6,100.5 L468.5,99.4 L469.1,98.9 L469.4,98.4 L469.9,96.4 L469.9,96.3 L470.2,96.9 L470.3,97.0 L470.9,96.2 L471.3,96.0 L471.5,95.7 L472.0,96.7 L472.1,96.8 L472.4,96.6 L472.7,97.0 L473.1,97.2 L473.8,97.2 L476.1,96.7 L477.3,96.7 L479.0,97.0 L480.7,97.5 L482.4,98.5 L484.4,100.2 L488.4,104.4 L491.2,107.8 L492.8,110.0 L498.9,120.0 L506.5,131.2 L513.0,140.3 L525.0,156.8 L532.2,167.1 L534.3,170.5 L536.9,175.0 L540.4,181.9 L544.1,190.4 L547.9,200.5" fill="none" stroke="#8f2b2b" stroke-width="0.7" stroke-linejoin="round"/>
<path d="M418.2,140.5 L419.2,130.7 L419.8,118.3 L420.4,101.6 L420.9,76.3 L421.1,72.4 L422.1,112.3 L422.6,123.4 L423.2,131.5 L423.9,138.1 L424.8,142.4 L425.3,143.8 L425.9,144.9 L426.6,145.4 L427.4,145.5 L428.2,145.3 L428.9,144.8 L430.5,143.1 L432.0,140.5 L433.1,137.4 L433.8,134.7 L434.3,131.7 L435.3,119.4 L435.4,119.7 L436.1,124.3 L436.2,124.5 L436.3,124.4 L436.6,123.4 L437.0,120.0 L437.6,112.0 L437.7,111.6 L437.8,111.4 L437.8,111.4 L438.2,112.8 L438.3,112.9 L438.4,112.9 L438.6,111.5 L438.9,108.7 L439.5,98.7 L440.3,73.3 L440.5,75.9 L441.2,94.8 L441.5,98.4 L441.8,99.9 L441.9,100.1 L442.0,100.0 L442.6,98.9 L443.3,98.0 L443.7,96.9 L444.0,95.1 L445.2,84.4 L446.2,70.7 L446.4,69.5 L446.5,69.2 L446.6,69.2 L447.5,72.5 L448.4,83.8 L448.7,86.4 L449.0,87.1 L449.3,87.1 L449.5,87.0 L450.1,83.6 L450.2,83.2 L450.3,83.4 L451.3,101.1 L451.7,105.2 L452.2,108.5 L452.8,110.9 L453.4,112.5 L454.1,113.6 L454.5,113.9 L454.9,113.9 L455.3,113.7 L455.6,113.2 L456.2,111.8 L457.1,106.4 L457.3,104.5 L457.9,93.3 L458.3,71.6 L459.2,92.6 L459.6,98.0 L459.7,98.5 L459.8,98.5 L460.3,97.3 L460.8,98.3 L461.1,97.7 L461.4,94.1 L462.0,84.7 L462.5,96.7 L462.9,102.0 L463.2,103.6 L463.4,103.6 L463.8,103.0 L463.9,103.1 L464.7,107.3 L464.9,107.4 L465.0,107.3 L465.4,106.0 L466.0,108.8 L466.3,109.3 L466.6,109.5 L467.0,109.5 L467.4,109.2 L468.3,108.1 L468.9,106.5 L469.3,104.3 L469.6,101.1 L469.9,95.0 L470.3,98.1 L470.9,96.1 L471.0,96.0 L471.3,96.1 L471.5,95.0 L472.0,100.7 L472.2,101.3 L472.4,100.9 L472.9,105.2 L473.2,106.5 L473.6,107.4 L474.4,108.3 L475.5,108.7 L478.2,109.0 L480.2,108.8 L481.6,108.4 L483.1,107.7 L487.3,105.0 L489.8,102.9 L491.7,100.6 L493.3,98.2 L495.7,94.3 L499.1,88.0 L501.3,83.9 L507.3,71.1 L508.8,68.3 L510.2,66.1 L511.6,64.2 L513.1,62.5 L514.7,61.0" fill="none" stroke="#2f7d22" stroke-width="0.65" stroke-linejoin="round"/>
<path d="M418.2,86.5 L418.9,86.8 L419.2,86.8 L419.4,86.5 L419.8,85.5 L420.1,83.9 L420.5,78.4 L421.0,64.8 L421.1,63.6 L421.9,83.8 L422.3,87.9 L423.0,91.2 L423.6,92.7 L424.5,94.3 L425.7,96.0 L427.2,97.6 L428.9,99.0 L430.4,100.0 L431.8,100.7 L433.0,100.9 L433.8,100.6 L434.4,100.1 L434.7,99.2 L435.3,96.8 L436.0,98.5 L436.3,98.7 L436.5,98.5 L437.0,97.3 L437.7,93.7 L437.8,93.7 L438.3,94.4 L438.5,94.1 L438.7,93.4 L439.1,90.6 L439.5,86.4 L440.3,66.8 L440.5,69.0 L441.1,81.8 L441.5,86.1 L441.7,86.8 L442.0,87.0 L442.6,86.2 L443.3,85.7 L443.6,85.1 L444.2,82.6 L445.0,77.8 L445.6,72.4 L446.2,64.2 L446.5,62.8 L447.5,65.8 L448.3,74.4 L448.7,76.9 L449.0,77.4 L449.5,77.2 L450.1,74.7 L450.2,74.4 L450.3,74.5 L451.1,84.7 L451.5,87.2 L451.9,89.1 L452.4,90.6 L453.1,91.6 L453.9,92.3 L454.9,92.5 L455.8,92.2 L456.3,91.5 L457.1,89.3 L457.5,87.4 L457.9,80.0 L458.3,64.9 L459.1,80.3 L459.6,84.9 L459.7,85.2 L459.8,85.2 L460.3,84.5 L460.8,85.2 L461.1,84.8 L461.4,82.5 L462.0,75.8 L462.4,83.3 L462.8,87.1 L463.2,88.4 L463.4,88.4 L463.8,88.0 L463.9,88.1 L464.4,89.8 L464.7,90.3 L465.0,90.2 L465.4,89.5 L466.0,90.8 L466.3,91.0 L466.6,91.0 L467.6,90.6 L468.5,89.8 L469.1,88.8 L469.4,87.6 L469.9,82.4 L469.9,82.3 L470.2,83.9 L470.3,84.2 L470.9,82.9 L471.3,82.8 L471.5,82.1 L472.0,85.3 L472.2,85.6 L472.4,85.4 L472.9,87.6 L473.3,88.1 L473.7,88.4 L474.6,88.6 L477.2,88.6 L479.6,88.9 L482.2,89.4 L487.3,90.9 L489.0,91.1 L490.5,91.2 L492.4,90.7 L494.3,89.8 L496.3,88.2 L498.3,86.0 L500.0,83.6 L501.7,80.9 L507.8,69.4 L509.3,67.0 L510.6,65.1 L512.0,63.4 L513.6,61.7 L515.0,60.5 L516.9,59.3 L519.4,58.2 L521.4,57.6 L523.5,57.3 L525.6,57.4 L527.6,57.8 L529.8,58.7 L532.2,59.9 L534.8,61.7 L537.3,63.9 L539.6,66.3 L542.0,69.5 L546.2,75.8 L549.6,81.2 L552.9,87.2 L555.8,92.8 L558.4,98.7 L561.6,106.4 L568.3,124.4 L573.8,138.7 L594.7,190.9" fill="none" stroke="#262626" stroke-width="0.62" stroke-linejoin="round"/>
</g>
<rect x="420.7" y="85.2" width="5.6" height="5.3" fill="none" stroke="#e8292b" stroke-width="0.65" opacity="1.0"/>
<path d="M421.4,88.1L423.5,86.7L425.6,88.1L423.5,89.5ZM421.4,88.1h4.2" fill="none" stroke="#e8292b" stroke-width="0.55"/>
<rect x="427.9" y="96.7" width="6.2" height="4.5" fill="none" stroke="#e8292b" stroke-width="0.65" opacity="1.0"/>
<path d="M428.6,99.1L431.0,97.7L433.4,99.1L431.0,100.5ZM428.6,99.1h4.8" fill="none" stroke="#e8292b" stroke-width="0.55"/>
<rect x="435.3" y="84.2" width="5.1" height="9.8" fill="none" stroke="#e8292b" stroke-width="0.65" opacity="1.0"/>
<path d="M436.0,89.3L437.8,87.9L439.7,89.3L437.8,90.7ZM436.0,89.3h3.7" fill="none" stroke="#e8292b" stroke-width="0.55"/>
<rect x="444.9" y="72.5" width="5.6" height="7.5" fill="none" stroke="#e8292b" stroke-width="0.65" opacity="1.0"/>
<path d="M445.6,76.5L447.7,75.1L449.8,76.5L447.7,77.9ZM445.6,76.5h4.2" fill="none" stroke="#e8292b" stroke-width="0.55"/>
<rect x="477.9" y="88.5" width="6.2" height="3.9" fill="none" stroke="#e8292b" stroke-width="0.65" opacity="1.0"/>
<path d="M478.6,90.7L481.0,89.5L483.4,90.7L481.0,91.9ZM478.6,90.7h4.8" fill="none" stroke="#e8292b" stroke-width="0.55"/>
<rect x="511.7" y="63.5" width="6.0" height="10.2" fill="none" stroke="#e8292b" stroke-width="0.65" opacity="1.0"/>
<rect x="535.7" y="63.6" width="6.0" height="10.8" fill="none" stroke="#e8292b" stroke-width="0.65" opacity="1.0"/>
<rect x="511.7" y="57.5" width="6.0" height="11.6" fill="none" stroke="#3b3bd6" stroke-width="0.6" opacity="1.0"/>
<rect x="522.1" y="53.0" width="6.0" height="13.2" fill="none" stroke="#3b3bd6" stroke-width="0.6" opacity="1.0"/>
<rect x="536.0" y="59.4" width="6.0" height="10.0" fill="none" stroke="#3b3bd6" stroke-width="0.6" opacity="1.0"/>
<path d="M511.4,63.2L514.7,61.0L518.0,63.2L514.7,64.2Z" fill="#3a1fb0" fill-opacity="0.45" stroke="#3a1fb0" stroke-width="0.9"/>
<path d="M535.7,65.6L539.0,63.4L542.3,65.6L539.0,66.6Z" fill="#3a1fb0" fill-opacity="0.45" stroke="#3a1fb0" stroke-width="0.9"/>
<ellipse cx="525.1" cy="57.6" rx="2.5" ry="1.4" fill="none" stroke="#3a1fb0" stroke-width="0.8"/>
<rect x="549.6" y="84.8" width="6.0" height="4.8" fill="none" stroke="#3b3bd6" stroke-width="0.8" opacity="1.0"/>
<path d="M550.0,86.5L552.6,84.9L555.2,86.5L552.6,88.1ZM550.0,86.5h5.2" fill="none" stroke="#3b3bd6" stroke-width="0.75"/>
<rect x="559.8" y="107.8" width="6.0" height="4.8" fill="none" stroke="#3b3bd6" stroke-width="0.8" opacity="1.0"/>
<path d="M560.2,109.3L562.8,107.7L565.4,109.3L562.8,110.9ZM560.2,109.3h5.2" fill="none" stroke="#3b3bd6" stroke-width="0.75"/>
<rect x="570.6" y="132.2" width="6.0" height="6.0" fill="none" stroke="#3b3bd6" stroke-width="0.8" opacity="1.0"/>
<path d="M571.0,134.7L573.6,133.1L576.2,134.7L573.6,136.3ZM571.0,134.7h5.2" fill="none" stroke="#3b3bd6" stroke-width="0.75"/>
<rect x="418.2" y="19.8" width="176.5" height="174.8" fill="none" stroke="#333" stroke-width="0.85"/>
<path d="M426.9,194.6v-2.1M426.9,19.8v2.1M433.7,194.6v-2.1M433.7,19.8v2.1M439.3,194.6v-2.1M439.3,19.8v2.1M443.9,194.6v-2.1M443.9,19.8v2.1M448.0,194.6v-2.1M448.0,19.8v2.1M451.6,194.6v-2.1M451.6,19.8v2.1M454.8,194.6v-4.2M454.8,19.8v4.2M475.8,194.6v-2.1M475.8,19.8v2.1M488.2,194.6v-2.1M488.2,19.8v2.1M496.9,194.6v-2.1M496.9,19.8v2.1M503.7,194.6v-2.1M503.7,19.8v2.1M509.2,194.6v-2.1M509.2,19.8v2.1M513.9,194.6v-2.1M513.9,19.8v2.1M518.0,194.6v-2.1M518.0,19.8v2.1M521.5,194.6v-2.1M521.5,19.8v2.1M524.7,194.6v-4.2M524.7,19.8v4.2M545.8,194.6v-2.1M545.8,19.8v2.1M558.1,194.6v-2.1M558.1,19.8v2.1M566.9,194.6v-2.1M566.9,19.8v2.1M573.6,194.6v-2.1M573.6,19.8v2.1M579.2,194.6v-2.1M579.2,19.8v2.1M583.9,194.6v-2.1M583.9,19.8v2.1M587.9,194.6v-2.1M587.9,19.8v2.1M591.5,194.6v-2.1M591.5,19.8v2.1M418.2,181.4h2.1M594.7,181.4h-2.1M418.2,173.7h2.1M594.7,173.7h-2.1M418.2,168.3h2.1M594.7,168.3h-2.1M418.2,164.1h2.1M594.7,164.1h-2.1M418.2,160.6h2.1M594.7,160.6h-2.1M418.2,157.7h2.1M594.7,157.7h-2.1M418.2,155.1h2.1M594.7,155.1h-2.1M418.2,152.9h2.1M594.7,152.9h-2.1M418.2,150.9h4.2M594.7,150.9h-4.2M418.2,137.7h2.1M594.7,137.7h-2.1M418.2,130.0h2.1M594.7,130.0h-2.1M418.2,124.6h2.1M594.7,124.6h-2.1M418.2,120.4h2.1M594.7,120.4h-2.1M418.2,116.9h2.1M594.7,116.9h-2.1M418.2,114.0h2.1M594.7,114.0h-2.1M418.2,111.4h2.1M594.7,111.4h-2.1M418.2,109.2h2.1M594.7,109.2h-2.1M418.2,107.2h4.2M594.7,107.2h-4.2M418.2,94.0h2.1M594.7,94.0h-2.1M418.2,86.3h2.1M594.7,86.3h-2.1M418.2,80.9h2.1M594.7,80.9h-2.1M418.2,76.7h2.1M594.7,76.7h-2.1M418.2,73.2h2.1M594.7,73.2h-2.1M418.2,70.3h2.1M594.7,70.3h-2.1M418.2,67.7h2.1M594.7,67.7h-2.1M418.2,65.5h2.1M594.7,65.5h-2.1M418.2,63.5h4.2M594.7,63.5h-4.2M418.2,50.3h2.1M594.7,50.3h-2.1M418.2,42.6h2.1M594.7,42.6h-2.1M418.2,37.2h2.1M594.7,37.2h-2.1M418.2,33.0h2.1M594.7,33.0h-2.1M418.2,29.5h2.1M594.7,29.5h-2.1M418.2,26.6h2.1M594.7,26.6h-2.1M418.2,24.0h2.1M594.7,24.0h-2.1M418.2,21.8h2.1M594.7,21.8h-2.1" stroke="#222" stroke-width="0.7" fill="none"/>
<text x="421.2" y="27.8" font-size="6.70" fill="#3a3a3a" stroke="#3a3a3a" textLength="30.5" lengthAdjust="spacingAndGlyphs">NGC6946</text>
<text x="462.1" y="27.8" font-size="6.70" fill="#3a3a3a" stroke="#3a3a3a" textLength="40.8" lengthAdjust="spacingAndGlyphs">D=6.80 Mpc</text>
<text x="591.1" y="27.5" font-size="6.70" fill="#3a3a3a" stroke="#3a3a3a" text-anchor="end" textLength="67.5" lengthAdjust="spacingAndGlyphs">Global_Photometry</text>
<text x="591.0" y="35.5" font-size="6.70" fill="#e8292b" stroke="#e8292b" text-anchor="end" textLength="25.3" lengthAdjust="spacingAndGlyphs">Spitzer</text>
<text x="591.0" y="43.3" font-size="6.70" fill="#3b3bd6" stroke="#3b3bd6" text-anchor="end" textLength="30.9" lengthAdjust="spacingAndGlyphs">Herschel</text>
<text x="427.8" y="189.4" font-family="'Liberation Serif',serif" font-size="10.5" fill="#333">(c)</text>
<text x="462.1" y="137.1" font-size="6.48" fill="#3a3a3a" stroke="#3a3a3a">U<tspan font-size="4.28" dy="1.94">min</tspan></text>
<text x="480.3" y="137.1" font-size="6.00" fill="#3a3a3a" stroke="#3a3a3a" textLength="4.0" lengthAdjust="spacingAndGlyphs">=</text>
<text x="488.3" y="137.1" font-size="6.00" fill="#3a3a3a" stroke="#3a3a3a" textLength="13.8" lengthAdjust="spacingAndGlyphs">3.00</text>
<text x="462.1" y="144.1" font-size="6.48" fill="#3a3a3a" stroke="#3a3a3a">α</text>
<text x="480.3" y="144.1" font-size="6.00" fill="#3a3a3a" stroke="#3a3a3a" textLength="4.0" lengthAdjust="spacingAndGlyphs">=</text>
<text x="488.3" y="144.1" font-size="6.00" fill="#3a3a3a" stroke="#3a3a3a" textLength="13.8" lengthAdjust="spacingAndGlyphs">1.70</text>
<text x="462.1" y="151.2" font-size="6.48" fill="#3a3a3a" stroke="#3a3a3a">γ</text>
<text x="480.3" y="151.2" font-size="6.00" fill="#3a3a3a" stroke="#3a3a3a" textLength="4.0" lengthAdjust="spacingAndGlyphs">=</text>
<text x="488.3" y="151.2" font-size="6.00" fill="#3a3a3a" stroke="#3a3a3a" textLength="13.8" lengthAdjust="spacingAndGlyphs">0.08</text>
<text x="506.5" y="151.2" font-size="6.00" fill="#3a3a3a" stroke="#3a3a3a">%</text>
<text x="462.1" y="158.2" font-size="6.48" fill="#3a3a3a" stroke="#3a3a3a">f<tspan font-size="4.28" dy="1.94">PDR</tspan></text>
<text x="480.3" y="158.2" font-size="6.00" fill="#3a3a3a" stroke="#3a3a3a" textLength="4.0" lengthAdjust="spacingAndGlyphs">=</text>
<text x="488.3" y="158.2" font-size="6.00" fill="#3a3a3a" stroke="#3a3a3a" textLength="13.8" lengthAdjust="spacingAndGlyphs">14.4</text>
<text x="506.5" y="158.2" font-size="6.00" fill="#3a3a3a" stroke="#3a3a3a">%</text>
<text x="462.1" y="165.2" font-size="6.48" fill="#3a3a3a" stroke="#3a3a3a">q<tspan font-size="4.28" dy="1.94">PAH</tspan></text>
<text x="480.3" y="165.2" font-size="6.00" fill="#3a3a3a" stroke="#3a3a3a" textLength="4.0" lengthAdjust="spacingAndGlyphs">=</text>
<text x="488.3" y="165.2" font-size="6.00" fill="#3a3a3a" stroke="#3a3a3a" textLength="13.8" lengthAdjust="spacingAndGlyphs">3.30</text>
<text x="506.5" y="165.2" font-size="6.00" fill="#3a3a3a" stroke="#3a3a3a">%</text>
<text x="462.1" y="172.2" font-size="6.48" fill="#3a3a3a" stroke="#3a3a3a">L<tspan font-size="4.28" dy="1.94">PDR</tspan></text>
<text x="480.3" y="172.2" font-size="6.00" fill="#3a3a3a" stroke="#3a3a3a" textLength="4.0" lengthAdjust="spacingAndGlyphs">=</text>
<text x="488.3" y="172.2" font-size="6.00" fill="#3a3a3a" stroke="#3a3a3a" textLength="13.8" lengthAdjust="spacingAndGlyphs">4.76</text>
<text x="506.5" y="172.2" font-size="6.30" fill="#3a3a3a" stroke="#3a3a3a" textLength="11.6" lengthAdjust="spacingAndGlyphs">x10</text>
<text x="518.5" y="170.1" font-size="4.20" fill="#3a3a3a" stroke="#3a3a3a" textLength="1.7" lengthAdjust="spacingAndGlyphs" style="stroke-width:.22px">9</text>
<text x="524.8" y="172.2" font-size="6.00" fill="#3a3a3a" stroke="#3a3a3a" textLength="2.9" lengthAdjust="spacingAndGlyphs">L</text>
<text x="528.2" y="174.3" font-size="3.72" fill="#3a3a3a" stroke="#3a3a3a" style="stroke-width:.2px">☉</text>
<text x="462.1" y="179.3" font-size="6.48" fill="#3a3a3a" stroke="#3a3a3a">L<tspan font-size="4.28" dy="1.94">dust</tspan></text>
<text x="480.3" y="179.3" font-size="6.00" fill="#3a3a3a" stroke="#3a3a3a" textLength="4.0" lengthAdjust="spacingAndGlyphs">=</text>
<text x="488.3" y="179.3" font-size="6.00" fill="#3a3a3a" stroke="#3a3a3a" textLength="13.8" lengthAdjust="spacingAndGlyphs">3.30</text>
<text x="506.5" y="179.3" font-size="6.30" fill="#3a3a3a" stroke="#3a3a3a" textLength="11.6" lengthAdjust="spacingAndGlyphs">x10</text>
<text x="518.5" y="177.1" font-size="4.20" fill="#3a3a3a" stroke="#3a3a3a" textLength="3.5" lengthAdjust="spacingAndGlyphs" style="stroke-width:.22px">10</text>
<text x="527.5" y="179.3" font-size="6.00" fill="#3a3a3a" stroke="#3a3a3a" textLength="2.9" lengthAdjust="spacingAndGlyphs">L</text>
<text x="530.9" y="181.3" font-size="3.72" fill="#3a3a3a" stroke="#3a3a3a" style="stroke-width:.2px">☉</text>
<text x="462.1" y="186.3" font-size="6.48" fill="#3a3a3a" stroke="#3a3a3a">M<tspan font-size="4.28" dy="1.94">dust</tspan></text>
<text x="480.3" y="186.3" font-size="6.00" fill="#3a3a3a" stroke="#3a3a3a" textLength="4.0" lengthAdjust="spacingAndGlyphs">=</text>
<text x="488.3" y="186.3" font-size="6.00" fill="#3a3a3a" stroke="#3a3a3a" textLength="13.8" lengthAdjust="spacingAndGlyphs">6.90</text>
<text x="506.5" y="186.3" font-size="6.30" fill="#3a3a3a" stroke="#3a3a3a" textLength="11.6" lengthAdjust="spacingAndGlyphs">x10</text>
<text x="518.5" y="184.2" font-size="4.20" fill="#3a3a3a" stroke="#3a3a3a" textLength="1.7" lengthAdjust="spacingAndGlyphs" style="stroke-width:.22px">7</text>
<text x="524.8" y="186.3" font-size="6.00" fill="#3a3a3a" stroke="#3a3a3a" textLength="3.5" lengthAdjust="spacingAndGlyphs">M</text>
<text x="528.8" y="188.3" font-size="3.72" fill="#3a3a3a" stroke="#3a3a3a" style="stroke-width:.2px">☉</text>
<clipPath id="c10"><rect x="27.8" y="204.1" width="174.6" height="171.1"/></clipPath>
<g clip-path="url(#c10)">
<path d="M27.8,271.0 L33.5,279.8 L39.7,289.8 L53.7,313.4 L70.7,343.1 L91.8,381.2" fill="none" stroke="#27d9e4" stroke-width="0.9" stroke-linejoin="round"/>
<path d="M27.8,324.3 L28.4,322.1 L28.9,319.6 L29.5,313.0 L29.9,304.7 L30.5,284.6 L30.7,281.1 L31.3,301.6 L31.7,310.1 L32.0,313.2 L32.4,315.6 L32.8,316.8 L33.4,317.2 L33.8,317.1 L34.2,316.8 L35.4,315.4 L42.1,305.4 L43.7,302.6 L44.7,299.5 L44.9,299.4 L45.3,299.6 L45.8,299.1 L46.4,297.7 L47.1,295.2 L47.2,295.0 L47.6,294.9 L48.0,294.3 L48.5,292.2 L48.9,289.0 L49.7,276.3 L49.8,277.0 L50.4,285.2 L50.8,287.7 L51.0,288.0 L51.2,288.0 L52.9,285.8 L53.7,283.8 L54.4,280.7 L54.9,277.4 L55.5,272.3 L55.8,271.3 L56.8,273.0 L57.5,277.6 L57.9,279.0 L58.2,279.3 L58.8,279.0 L59.4,277.4 L59.5,277.4 L60.2,281.1 L60.5,282.3 L61.1,283.3 L62.0,283.8 L63.2,283.9 L65.2,283.7 L66.2,283.0 L66.6,282.5 L66.9,281.2 L67.1,279.4 L67.5,271.3 L68.2,279.6 L68.5,281.0 L68.8,281.6 L69.5,281.4 L70.0,281.6 L70.3,281.4 L70.6,280.4 L71.1,277.6 L71.5,281.0 L71.9,282.4 L72.3,282.8 L73.0,282.7 L73.8,283.4 L74.1,283.3 L74.5,283.0 L75.0,283.3 L75.6,283.3 L77.6,282.4 L78.1,281.9 L78.5,281.5 L78.9,279.5 L79.0,279.4 L79.2,280.0 L79.3,280.1 L79.9,279.5 L80.3,279.3 L80.6,278.9 L81.0,280.0 L81.1,280.1 L81.4,279.9 L81.8,280.5 L82.1,280.6 L87.7,280.6 L90.9,280.8 L95.7,281.8 L99.9,283.1 L115.9,289.1 L121.8,291.5 L126.3,293.6 L140.7,301.2 L142.6,302.7 L144.8,305.1 L147.1,308.1 L149.7,312.4 L156.2,323.9 L161.0,333.0 L164.8,341.4 L170.8,354.8 L181.8,381.2" fill="none" stroke="#8f2b2b" stroke-width="0.7" stroke-linejoin="round"/>
<path d="M27.8,322.2 L28.7,312.7 L29.4,300.5 L29.9,284.2 L30.5,259.4 L30.7,255.5 L31.7,294.7 L32.2,305.5 L32.8,314.2 L33.5,320.4 L34.4,324.3 L34.9,325.7 L35.5,326.6 L36.2,327.1 L37.0,327.2 L37.7,326.9 L38.5,326.4 L39.3,325.6 L40.1,324.6 L41.5,322.1 L42.6,319.0 L43.3,316.2 L43.8,313.1 L44.7,301.6 L44.9,301.8 L45.5,306.4 L45.6,306.6 L45.7,306.5 L46.0,305.5 L46.4,302.2 L47.0,294.3 L47.1,293.9 L47.2,293.8 L47.6,295.1 L47.7,295.3 L47.8,295.2 L48.0,293.8 L48.3,291.1 L48.8,281.4 L49.7,256.5 L49.9,259.0 L50.6,277.5 L50.8,281.0 L51.1,282.5 L51.2,282.7 L51.4,282.6 L51.9,281.5 L52.7,280.7 L53.0,279.6 L53.3,277.8 L54.5,267.3 L55.5,253.9 L55.7,252.8 L55.7,252.5 L55.9,252.4 L56.8,255.7 L57.6,266.8 L58.0,269.3 L58.2,269.9 L58.6,270.0 L58.8,269.8 L59.3,266.5 L59.4,266.1 L59.5,266.3 L60.6,283.7 L61.0,287.7 L61.5,290.9 L62.0,293.2 L62.6,294.9 L63.3,295.9 L63.7,296.2 L64.1,296.2 L64.5,296.0 L64.8,295.6 L65.4,294.2 L66.3,288.8 L66.5,287.0 L67.0,276.0 L67.5,254.8 L68.3,275.4 L68.7,280.7 L68.8,281.2 L69.0,281.2 L69.5,280.0 L70.0,280.9 L70.2,280.3 L70.5,276.9 L71.1,267.7 L71.6,279.3 L72.0,284.6 L72.3,286.1 L72.5,286.1 L72.9,285.5 L73.0,285.7 L73.8,289.7 L74.0,289.9 L74.1,289.8 L74.5,288.5 L75.1,291.3 L75.4,291.7 L75.6,291.9 L76.0,291.9 L76.5,291.6 L77.4,290.5 L78.0,289.0 L78.4,286.9 L78.7,283.7 L78.9,277.7 L79.3,280.8 L79.9,278.8 L80.1,278.7 L80.3,278.7 L80.5,277.7 L81.0,283.3 L81.2,283.9 L81.4,283.5 L81.9,288.0 L82.3,289.2 L82.7,289.9 L83.5,290.7 L84.6,291.1 L87.2,291.3 L89.5,291.1 L91.4,290.6 L93.2,290.0 L94.6,289.3 L96.1,288.5 L97.9,287.3 L99.3,286.1 L100.6,284.8 L101.8,283.4 L104.7,278.8 L109.2,271.0 L118.6,251.9 L120.7,248.6 L123.1,245.8 L124.5,244.5 L126.2,243.3 L128.2,242.3 L130.0,241.6 L132.0,241.2 L134.1,241.0 L136.2,241.1 L138.2,241.5 L141.1,242.5 L144.2,244.3 L147.1,246.6 L149.9,249.5 L153.2,253.9 L157.9,260.9 L161.2,266.2 L164.5,272.4 L167.9,279.4 L171.8,288.6 L178.5,306.5 L183.7,320.0 L202.4,366.1" fill="none" stroke="#2f7d22" stroke-width="0.65" stroke-linejoin="round"/>
<path d="M27.8,268.9 L28.5,269.2 L28.7,269.2 L29.0,269.0 L29.4,268.0 L29.7,266.5 L30.1,261.2 L30.6,248.0 L30.7,246.9 L31.5,266.5 L31.9,270.4 L32.6,273.5 L33.2,275.2 L34.1,276.7 L35.3,278.3 L36.8,279.9 L38.4,281.3 L40.0,282.4 L41.4,283.0 L42.5,283.2 L43.3,283.0 L43.8,282.4 L44.1,281.6 L44.7,279.2 L45.4,281.0 L45.7,281.1 L45.9,280.9 L46.4,279.8 L47.1,276.3 L47.2,276.3 L47.7,277.0 L47.9,276.7 L48.1,276.0 L48.5,273.3 L48.8,269.3 L49.7,250.1 L49.9,252.3 L50.4,264.7 L50.8,268.9 L51.0,269.7 L51.3,269.9 L51.9,269.1 L52.6,268.6 L52.9,267.9 L53.5,265.5 L54.3,260.9 L54.9,255.6 L55.5,247.6 L55.8,246.2 L56.8,249.1 L57.6,257.5 L58.0,260.0 L58.2,260.4 L58.8,260.3 L59.3,257.8 L59.4,257.5 L59.5,257.6 L60.4,267.6 L60.7,270.1 L61.1,271.9 L61.7,273.4 L62.3,274.4 L63.1,275.0 L64.1,275.2 L65.0,274.9 L65.5,274.3 L66.3,272.1 L66.6,270.3 L67.1,263.0 L67.5,248.3 L68.2,263.3 L68.7,267.8 L68.8,268.1 L69.0,268.1 L69.5,267.4 L70.0,268.1 L70.2,267.7 L70.5,265.5 L71.1,258.9 L71.6,267.2 L71.9,269.6 L72.1,270.8 L72.4,271.3 L72.9,270.9 L73.0,271.0 L73.5,272.6 L73.8,273.1 L74.1,273.1 L74.5,272.4 L75.1,273.7 L75.4,273.9 L75.7,273.9 L76.4,273.7 L77.2,273.2 L77.8,272.5 L78.2,271.7 L78.6,269.8 L79.0,265.5 L79.3,267.4 L79.9,266.2 L80.0,266.0 L80.3,266.0 L80.6,265.4 L81.0,268.6 L81.2,268.9 L81.4,268.6 L81.9,270.9 L82.5,271.6 L83.4,272.0 L84.8,272.2 L88.7,272.2 L94.6,272.1 L98.9,271.6 L100.4,271.2 L101.6,270.8 L103.4,269.7 L105.4,268.1 L107.3,266.3 L109.2,264.2 L110.8,262.2 L112.4,259.8 L118.0,250.6 L119.3,248.6 L121.9,245.5 L123.5,244.0 L124.7,243.0 L126.7,241.8 L129.0,240.9 L130.9,240.4 L133.1,240.2 L135.5,240.2 L137.8,240.6 L140.1,241.3 L142.2,242.3 L144.8,244.0 L147.3,246.1 L149.6,248.5 L152.1,251.7 L155.8,257.1 L159.7,263.2 L162.9,268.9 L165.8,274.5 L168.6,280.6 L171.9,288.5 L178.4,305.8 L183.8,319.6 L202.4,365.5" fill="none" stroke="#262626" stroke-width="0.62" stroke-linejoin="round"/>
</g>
<rect x="30.2" y="268.2" width="5.6" height="5.2" fill="none" stroke="#e8292b" stroke-width="0.65" opacity="1.0"/>
<path d="M30.9,271.0L33.0,269.6L35.1,271.0L33.0,272.4ZM30.9,271.0h4.2" fill="none" stroke="#e8292b" stroke-width="0.55"/>
<rect x="37.4" y="279.3" width="6.2" height="4.4" fill="none" stroke="#e8292b" stroke-width="0.65" opacity="1.0"/>
<path d="M38.1,281.7L40.5,280.3L42.9,281.7L40.5,283.1ZM38.1,281.7h4.8" fill="none" stroke="#e8292b" stroke-width="0.55"/>
<rect x="44.7" y="267.1" width="5.1" height="9.6" fill="none" stroke="#e8292b" stroke-width="0.65" opacity="1.0"/>
<path d="M45.4,272.1L47.2,270.7L49.1,272.1L47.2,273.5ZM45.4,272.1h3.7" fill="none" stroke="#e8292b" stroke-width="0.55"/>
<rect x="54.2" y="255.7" width="5.6" height="7.3" fill="none" stroke="#e8292b" stroke-width="0.65" opacity="1.0"/>
<path d="M54.9,259.6L57.0,258.2L59.1,259.6L57.0,261.0ZM54.9,259.6h4.2" fill="none" stroke="#e8292b" stroke-width="0.55"/>
<rect x="86.8" y="271.4" width="6.2" height="3.8" fill="none" stroke="#e8292b" stroke-width="0.65" opacity="1.0"/>
<path d="M87.5,273.5L89.9,272.4L92.3,273.5L89.9,274.6ZM87.5,273.5h4.8" fill="none" stroke="#e8292b" stroke-width="0.55"/>
<rect x="120.3" y="246.9" width="6.0" height="10.0" fill="none" stroke="#e8292b" stroke-width="0.55" stroke-dasharray="1,0.8" opacity="0.7"/>
<rect x="144.0" y="247.0" width="6.0" height="10.6" fill="none" stroke="#e8292b" stroke-width="0.55" stroke-dasharray="1,0.8" opacity="0.7"/>
<rect x="120.3" y="241.0" width="6.0" height="11.4" fill="none" stroke="#3b3bd6" stroke-width="0.6" opacity="1.0"/>
<rect x="130.5" y="236.6" width="6.0" height="12.9" fill="none" stroke="#3b3bd6" stroke-width="0.6" opacity="1.0"/>
<rect x="144.3" y="242.9" width="6.0" height="9.8" fill="none" stroke="#3b3bd6" stroke-width="0.6" opacity="1.0"/>
<path d="M120.0,246.6L123.3,244.4L126.6,246.6L123.3,247.6Z" fill="#3a1fb0" fill-opacity="0.45" stroke="#3a1fb0" stroke-width="0.9"/>
<path d="M144.0,246.0L147.3,243.8L150.6,246.0L147.3,247.0Z" fill="#3a1fb0" fill-opacity="0.45" stroke="#3a1fb0" stroke-width="0.9"/>
<ellipse cx="133.5" cy="240.3" rx="2.5" ry="1.4" fill="none" stroke="#3a1fb0" stroke-width="0.8"/>
<path d="M157.7,264.4L160.7,262.3L163.7,264.4L160.7,266.5Z" fill="none" stroke="#3b3bd6" stroke-width="0.85"/>
<rect x="158.0" y="268.0" width="4.8" height="5.0" fill="none" stroke="#3b3bd6" stroke-width="0.6" stroke-dasharray="1,0.8" opacity="0.7"/>
<path d="M167.8,285.1L170.8,283.0L173.8,285.1L170.8,287.2Z" fill="none" stroke="#3b3bd6" stroke-width="0.85"/>
<rect x="168.1" y="290.5" width="4.8" height="5.0" fill="none" stroke="#3b3bd6" stroke-width="0.6" stroke-dasharray="1,0.8" opacity="0.7"/>
<path d="M178.6,310.4L181.6,308.3L184.6,310.4L181.6,312.5Z" fill="none" stroke="#3b3bd6" stroke-width="0.85"/>
<rect x="178.9" y="315.0" width="4.8" height="5.0" fill="none" stroke="#3b3bd6" stroke-width="0.6" stroke-dasharray="1,0.8" opacity="0.7"/>
<rect x="27.8" y="204.1" width="174.6" height="171.1" fill="none" stroke="#333" stroke-width="0.85"/>
<path d="M36.4,375.2v-2.1M36.4,204.1v2.1M43.2,375.2v-2.1M43.2,204.1v2.1M48.6,375.2v-2.1M48.6,204.1v2.1M53.3,375.2v-2.1M53.3,204.1v2.1M57.3,375.2v-2.1M57.3,204.1v2.1M60.8,375.2v-2.1M60.8,204.1v2.1M64.0,375.2v-4.2M64.0,204.1v4.2M84.8,375.2v-2.1M84.8,204.1v2.1M97.0,375.2v-2.1M97.0,204.1v2.1M105.7,375.2v-2.1M105.7,204.1v2.1M112.4,375.2v-2.1M112.4,204.1v2.1M117.8,375.2v-2.1M117.8,204.1v2.1M122.5,375.2v-2.1M122.5,204.1v2.1M126.5,375.2v-2.1M126.5,204.1v2.1M130.0,375.2v-2.1M130.0,204.1v2.1M133.2,375.2v-4.2M133.2,204.1v4.2M154.0,375.2v-2.1M154.0,204.1v2.1M166.2,375.2v-2.1M166.2,204.1v2.1M174.9,375.2v-2.1M174.9,204.1v2.1M181.6,375.2v-2.1M181.6,204.1v2.1M187.0,375.2v-2.1M187.0,204.1v2.1M191.7,375.2v-2.1M191.7,204.1v2.1M195.7,375.2v-2.1M195.7,204.1v2.1M199.2,375.2v-2.1M199.2,204.1v2.1M27.8,362.3h2.1M202.4,362.3h-2.1M27.8,354.8h2.1M202.4,354.8h-2.1M27.8,349.4h2.1M202.4,349.4h-2.1M27.8,345.3h2.1M202.4,345.3h-2.1M27.8,341.9h2.1M202.4,341.9h-2.1M27.8,339.1h2.1M202.4,339.1h-2.1M27.8,336.6h2.1M202.4,336.6h-2.1M27.8,334.4h2.1M202.4,334.4h-2.1M27.8,332.4h4.2M202.4,332.4h-4.2M27.8,319.5h2.1M202.4,319.5h-2.1M27.8,312.0h2.1M202.4,312.0h-2.1M27.8,306.7h2.1M202.4,306.7h-2.1M27.8,302.5h2.1M202.4,302.5h-2.1M27.8,299.1h2.1M202.4,299.1h-2.1M27.8,296.3h2.1M202.4,296.3h-2.1M27.8,293.8h2.1M202.4,293.8h-2.1M27.8,291.6h2.1M202.4,291.6h-2.1M27.8,289.6h4.2M202.4,289.6h-4.2M27.8,276.8h2.1M202.4,276.8h-2.1M27.8,269.2h2.1M202.4,269.2h-2.1M27.8,263.9h2.1M202.4,263.9h-2.1M27.8,259.8h2.1M202.4,259.8h-2.1M27.8,256.4h2.1M202.4,256.4h-2.1M27.8,253.5h2.1M202.4,253.5h-2.1M27.8,251.0h2.1M202.4,251.0h-2.1M27.8,248.8h2.1M202.4,248.8h-2.1M27.8,246.9h4.2M202.4,246.9h-4.2M27.8,234.0h2.1M202.4,234.0h-2.1M27.8,226.5h2.1M202.4,226.5h-2.1M27.8,221.1h2.1M202.4,221.1h-2.1M27.8,217.0h2.1M202.4,217.0h-2.1M27.8,213.6h2.1M202.4,213.6h-2.1M27.8,210.7h2.1M202.4,210.7h-2.1M27.8,208.2h2.1M202.4,208.2h-2.1M27.8,206.1h2.1M202.4,206.1h-2.1" stroke="#222" stroke-width="0.7" fill="none"/>
<text x="30.8" y="212.1" font-size="6.70" fill="#3a3a3a" stroke="#3a3a3a" textLength="30.5" lengthAdjust="spacingAndGlyphs">NGC6946</text>
<text x="71.7" y="212.1" font-size="6.70" fill="#3a3a3a" stroke="#3a3a3a" textLength="40.8" lengthAdjust="spacingAndGlyphs">D=6.80 Mpc</text>
<text x="198.8" y="211.8" font-size="6.70" fill="#3a3a3a" stroke="#3a3a3a" text-anchor="end" textLength="51.5" lengthAdjust="spacingAndGlyphs">Sum_Over_Map</text>
<text x="198.7" y="219.8" font-size="6.70" fill="#e8292b" stroke="#e8292b" text-anchor="end" textLength="25.3" lengthAdjust="spacingAndGlyphs">Spitzer</text>
<text x="198.7" y="227.6" font-size="6.70" fill="#3b3bd6" stroke="#3b3bd6" text-anchor="end" textLength="30.9" lengthAdjust="spacingAndGlyphs">Herschel</text>
<text x="37.4" y="370.0" font-family="'Liberation Serif',serif" font-size="10.5" fill="#333">(d)</text>
<text x="66.1" y="333.0" font-size="6.372000000000001" fill="#3a3a3a" stroke="#3a3a3a">&lt;U<tspan font-size="4.21" dy="1.91">min</tspan></text>
<text x="86.1" y="333.0" font-size="5.90" fill="#3a3a3a" stroke="#3a3a3a" textLength="8.6" lengthAdjust="spacingAndGlyphs">&gt;=</text>
<text x="97.9" y="333.0" font-size="5.90" fill="#3a3a3a" stroke="#3a3a3a" textLength="13.8" lengthAdjust="spacingAndGlyphs">1.81</text>
<text x="66.1" y="339.8" font-size="6.372000000000001" fill="#3a3a3a" stroke="#3a3a3a">&lt;f<tspan font-size="4.21" dy="1.91">PDR</tspan></text>
<text x="86.1" y="339.8" font-size="5.90" fill="#3a3a3a" stroke="#3a3a3a" textLength="8.6" lengthAdjust="spacingAndGlyphs">&gt;=</text>
<text x="97.9" y="339.8" font-size="5.90" fill="#3a3a3a" stroke="#3a3a3a" textLength="13.8" lengthAdjust="spacingAndGlyphs">13.0</text>
<text x="116.1" y="339.8" font-size="5.90" fill="#3a3a3a" stroke="#3a3a3a">%</text>
<text x="66.1" y="346.6" font-size="6.372000000000001" fill="#3a3a3a" stroke="#3a3a3a">&lt;q<tspan font-size="4.21" dy="1.91">PAH</tspan></text>
<text x="86.1" y="346.6" font-size="5.90" fill="#3a3a3a" stroke="#3a3a3a" textLength="8.6" lengthAdjust="spacingAndGlyphs">&gt;=</text>
<text x="97.9" y="346.6" font-size="5.90" fill="#3a3a3a" stroke="#3a3a3a" textLength="13.8" lengthAdjust="spacingAndGlyphs">3.58</text>
<text x="116.1" y="346.6" font-size="5.90" fill="#3a3a3a" stroke="#3a3a3a">%</text>
<text x="71.7" y="353.3" font-size="6.372000000000001" fill="#3a3a3a" stroke="#3a3a3a">L<tspan font-size="4.21" dy="1.91">PDR</tspan></text>
<text x="89.9" y="353.3" font-size="5.90" fill="#3a3a3a" stroke="#3a3a3a" textLength="4.0" lengthAdjust="spacingAndGlyphs">=</text>
<text x="97.9" y="353.3" font-size="5.90" fill="#3a3a3a" stroke="#3a3a3a" textLength="13.8" lengthAdjust="spacingAndGlyphs">4.66</text>
<text x="116.1" y="353.3" font-size="6.20" fill="#3a3a3a" stroke="#3a3a3a" textLength="11.6" lengthAdjust="spacingAndGlyphs">x10</text>
<text x="128.1" y="351.2" font-size="4.13" fill="#3a3a3a" stroke="#3a3a3a" textLength="1.7" lengthAdjust="spacingAndGlyphs" style="stroke-width:.22px">9</text>
<text x="134.4" y="353.3" font-size="5.90" fill="#3a3a3a" stroke="#3a3a3a" textLength="2.9" lengthAdjust="spacingAndGlyphs">L</text>
<text x="137.8" y="355.3" font-size="3.66" fill="#3a3a3a" stroke="#3a3a3a" style="stroke-width:.2px">☉</text>
<text x="71.7" y="360.1" font-size="6.372000000000001" fill="#3a3a3a" stroke="#3a3a3a">L<tspan font-size="4.21" dy="1.91">dust</tspan></text>
<text x="89.9" y="360.1" font-size="5.90" fill="#3a3a3a" stroke="#3a3a3a" textLength="4.0" lengthAdjust="spacingAndGlyphs">=</text>
<text x="97.9" y="360.1" font-size="5.90" fill="#3a3a3a" stroke="#3a3a3a" textLength="13.8" lengthAdjust="spacingAndGlyphs">3.57</text>
<text x="116.1" y="360.1" font-size="6.20" fill="#3a3a3a" stroke="#3a3a3a" textLength="11.6" lengthAdjust="spacingAndGlyphs">x10</text>
<text x="128.1" y="358.0" font-size="4.13" fill="#3a3a3a" stroke="#3a3a3a" textLength="3.5" lengthAdjust="spacingAndGlyphs" style="stroke-width:.22px">10</text>
<text x="137.1" y="360.1" font-size="5.90" fill="#3a3a3a" stroke="#3a3a3a" textLength="2.9" lengthAdjust="spacingAndGlyphs">L</text>
<text x="140.5" y="362.1" font-size="3.66" fill="#3a3a3a" stroke="#3a3a3a" style="stroke-width:.2px">☉</text>
<text x="71.7" y="366.9" font-size="6.372000000000001" fill="#3a3a3a" stroke="#3a3a3a">M<tspan font-size="4.21" dy="1.91">dust</tspan></text>
<text x="89.9" y="366.9" font-size="5.90" fill="#3a3a3a" stroke="#3a3a3a" textLength="4.0" lengthAdjust="spacingAndGlyphs">=</text>
<text x="97.9" y="366.9" font-size="5.90" fill="#3a3a3a" stroke="#3a3a3a" textLength="13.8" lengthAdjust="spacingAndGlyphs">1.22</text>
<text x="116.1" y="366.9" font-size="6.20" fill="#3a3a3a" stroke="#3a3a3a" textLength="11.6" lengthAdjust="spacingAndGlyphs">x10</text>
<text x="128.1" y="364.8" font-size="4.13" fill="#3a3a3a" stroke="#3a3a3a" textLength="1.7" lengthAdjust="spacingAndGlyphs" style="stroke-width:.22px">8</text>
<text x="134.4" y="366.9" font-size="5.90" fill="#3a3a3a" stroke="#3a3a3a" textLength="3.5" lengthAdjust="spacingAndGlyphs">M</text>
<text x="138.4" y="368.9" font-size="3.66" fill="#3a3a3a" stroke="#3a3a3a" style="stroke-width:.2px">☉</text>
<text x="18.9" y="249.5" font-size="6.90" fill="#3a3a3a" stroke="#3a3a3a" text-anchor="end" textLength="7.6" lengthAdjust="spacingAndGlyphs">10</text>
<text x="19.3" y="246.3" font-size="4.90" fill="#3a3a3a" stroke="#3a3a3a" textLength="4.7" lengthAdjust="spacingAndGlyphs" style="stroke-width:.25px">-8</text>
<text x="18.9" y="292.2" font-size="6.90" fill="#3a3a3a" stroke="#3a3a3a" text-anchor="end" textLength="7.6" lengthAdjust="spacingAndGlyphs">10</text>
<text x="19.3" y="289.0" font-size="4.90" fill="#3a3a3a" stroke="#3a3a3a" textLength="4.7" lengthAdjust="spacingAndGlyphs" style="stroke-width:.25px">-9</text>
<text x="16.7" y="335.0" font-size="6.90" fill="#3a3a3a" stroke="#3a3a3a" text-anchor="end" textLength="7.6" lengthAdjust="spacingAndGlyphs">10</text>
<text x="17.1" y="331.8" font-size="4.90" fill="#3a3a3a" stroke="#3a3a3a" textLength="6.9" lengthAdjust="spacingAndGlyphs" style="stroke-width:.25px">-10</text>
<text x="16.7" y="377.8" font-size="6.90" fill="#3a3a3a" stroke="#3a3a3a" text-anchor="end" textLength="7.6" lengthAdjust="spacingAndGlyphs">10</text>
<text x="17.1" y="374.6" font-size="4.90" fill="#3a3a3a" stroke="#3a3a3a" textLength="6.9" lengthAdjust="spacingAndGlyphs" style="stroke-width:.25px">-11</text>
<text transform="translate(5.6,325.6) rotate(-90)" font-size="6.8" fill="#3a3a3a" stroke="#3a3a3a" textLength="67" lengthAdjust="spacingAndGlyphs">νF<tspan font-size="4" dy="1.6">ν</tspan><tspan dy="-1.6">(erg cm</tspan><tspan font-size="4" dy="-2.2">−2</tspan><tspan dy="2.2"> s</tspan><tspan font-size="4" dy="-2.2">−1</tspan><tspan dy="2.2">)</tspan></text>
<text x="64.2" y="383.9" font-size="6.80" fill="#3a3a3a" stroke="#3a3a3a" text-anchor="middle" textLength="7.2" lengthAdjust="spacingAndGlyphs">10</text>
<text x="133.4" y="383.9" font-size="6.80" fill="#3a3a3a" stroke="#3a3a3a" text-anchor="middle" textLength="7.2" lengthAdjust="spacingAndGlyphs">10</text>
<text x="137.3" y="380.8" font-size="4.80" fill="#3a3a3a" stroke="#3a3a3a" textLength="2.6" lengthAdjust="spacingAndGlyphs" style="stroke-width:.25px">2</text>
<text x="202.6" y="383.9" font-size="6.80" fill="#3a3a3a" stroke="#3a3a3a" text-anchor="middle" textLength="7.2" lengthAdjust="spacingAndGlyphs">10</text>
<text x="206.5" y="380.8" font-size="4.80" fill="#3a3a3a" stroke="#3a3a3a" textLength="2.6" lengthAdjust="spacingAndGlyphs" style="stroke-width:.25px">3</text>
<text x="115.1" y="392.2" font-size="7.4" fill="#3a3a3a" stroke="#3a3a3a" text-anchor="middle" textLength="21.4" lengthAdjust="spacingAndGlyphs">λ(μm)</text>
<clipPath id="c11"><rect x="222.1" y="204.1" width="176.2" height="171.1"/></clipPath>
<g clip-path="url(#c11)">
<path d="M222.1,271.0 L227.9,279.8 L234.1,289.8 L248.3,313.4 L265.4,343.1 L286.7,381.2" fill="none" stroke="#27d9e4" stroke-width="0.9" stroke-linejoin="round"/>
<path d="M222.1,324.3 L222.7,322.1 L223.2,319.6 L223.9,313.0 L224.3,304.7 L224.8,284.6 L225.0,281.1 L225.7,303.5 L226.1,311.0 L226.4,314.2 L226.8,315.9 L227.3,316.9 L227.6,317.2 L227.9,317.2 L228.8,316.5 L230.0,315.1 L236.7,305.1 L238.2,302.4 L239.2,299.5 L239.3,299.4 L239.8,299.6 L240.3,299.1 L240.9,297.7 L241.6,295.2 L241.7,295.0 L242.1,294.9 L242.4,294.3 L243.0,292.2 L243.4,289.0 L244.2,276.3 L244.3,277.0 L245.0,286.4 L245.3,287.7 L245.5,288.0 L245.7,288.1 L247.4,286.0 L248.3,283.6 L249.2,279.2 L250.1,272.3 L250.4,271.3 L251.3,273.0 L252.1,277.6 L252.5,279.0 L252.7,279.3 L253.4,279.0 L254.0,277.4 L254.1,277.4 L254.8,281.4 L255.3,282.7 L255.7,283.3 L256.2,283.6 L256.8,283.8 L257.7,283.9 L259.2,283.8 L260.0,283.6 L260.9,282.9 L261.3,282.3 L261.6,281.2 L261.8,279.4 L262.2,271.3 L262.9,279.6 L263.2,281.0 L263.5,281.6 L264.1,281.4 L264.7,281.6 L264.9,281.4 L265.3,280.4 L265.8,277.6 L266.2,281.0 L266.6,282.4 L267.0,282.8 L267.7,282.7 L268.5,283.4 L268.8,283.3 L269.2,283.1 L269.8,283.4 L270.4,283.3 L272.3,282.5 L272.9,282.1 L273.2,281.7 L273.7,279.7 L274.1,280.3 L274.6,279.8 L275.1,279.6 L275.4,279.3 L275.8,280.4 L275.9,280.5 L276.2,280.4 L276.6,281.0 L276.9,281.2 L282.2,282.1 L285.5,283.1 L291.5,285.7 L298.3,288.9 L301.8,290.3 L330.4,301.6 L335.7,303.3 L337.5,304.3 L339.3,305.7 L343.0,309.8 L346.8,314.6 L352.7,323.1 L356.7,328.5 L359.0,332.3 L361.0,336.3 L363.3,341.5 L370.7,358.8 L380.0,381.2" fill="none" stroke="#8f2b2b" stroke-width="0.7" stroke-linejoin="round"/>
<path d="M222.1,322.2 L223.0,312.7 L223.7,300.5 L224.3,284.2 L224.8,259.4 L225.0,255.5 L226.0,294.7 L226.5,305.5 L227.1,314.2 L227.9,320.4 L228.7,324.3 L229.3,325.7 L229.9,326.6 L230.6,327.1 L231.4,327.2 L232.1,326.9 L232.9,326.4 L233.7,325.6 L234.5,324.6 L235.9,322.1 L237.1,319.0 L237.8,316.2 L238.2,313.1 L239.2,301.6 L239.3,301.8 L239.9,306.4 L240.1,306.6 L240.2,306.5 L240.5,305.5 L240.9,302.2 L241.5,294.3 L241.6,293.9 L241.6,293.8 L241.7,293.8 L242.0,295.1 L242.2,295.3 L242.2,295.2 L242.5,293.8 L242.8,291.1 L243.3,281.4 L244.2,256.5 L244.4,259.0 L245.1,277.5 L245.4,281.0 L245.6,282.5 L245.8,282.7 L245.9,282.6 L246.4,281.5 L247.2,280.7 L247.5,279.6 L247.9,277.8 L249.1,267.3 L250.1,253.9 L250.2,252.8 L250.3,252.5 L250.4,252.4 L251.3,255.7 L252.2,266.8 L252.5,269.3 L252.8,269.9 L253.2,270.0 L253.4,269.8 L253.9,266.5 L254.0,266.1 L254.1,266.3 L255.2,283.7 L255.6,287.7 L256.1,290.9 L256.6,293.2 L257.2,294.9 L258.0,295.9 L258.4,296.2 L258.7,296.2 L259.1,296.0 L259.5,295.6 L260.0,294.2 L260.9,288.8 L261.2,287.0 L261.7,276.0 L262.2,254.8 L263.0,275.4 L263.4,280.7 L263.5,281.2 L263.7,281.2 L264.1,280.0 L264.7,280.9 L264.9,280.3 L265.2,276.9 L265.8,267.7 L266.3,279.3 L266.7,284.6 L267.0,286.1 L267.3,286.1 L267.6,285.5 L267.7,285.7 L268.5,289.7 L268.7,289.9 L268.8,289.8 L269.2,288.5 L269.8,291.3 L270.1,291.7 L270.4,291.9 L270.8,291.9 L271.3,291.6 L272.1,290.5 L272.7,289.0 L273.1,286.9 L273.4,283.7 L273.7,277.7 L274.1,280.8 L274.7,278.8 L274.8,278.7 L275.1,278.7 L275.3,277.7 L275.8,283.3 L276.0,283.9 L276.2,283.5 L276.7,288.0 L277.1,289.2 L277.5,289.9 L278.3,290.7 L279.4,291.1 L282.0,291.4 L284.2,291.2 L285.8,290.7 L287.5,290.0 L289.1,289.1 L291.2,287.8 L293.9,285.7 L296.1,283.2 L297.6,280.9 L300.0,277.0 L303.5,270.9 L312.9,251.9 L315.0,248.7 L317.3,246.0 L318.8,244.5 L320.5,243.4 L322.4,242.3 L324.5,241.6 L326.4,241.1 L328.3,241.0 L330.4,241.1 L332.3,241.5 L335.4,242.6 L338.4,244.4 L341.4,246.8 L344.1,249.6 L347.5,254.0 L352.3,261.2 L355.5,266.5 L359.0,272.8 L362.2,279.6 L366.1,288.7 L372.9,306.6 L378.3,320.4 L398.3,369.3" fill="none" stroke="#2f7d22" stroke-width="0.65" stroke-linejoin="round"/>
<path d="M222.1,268.9 L222.8,269.2 L223.0,269.2 L223.3,269.0 L223.7,268.0 L224.0,266.5 L224.4,261.2 L224.9,248.0 L225.0,246.9 L225.8,266.5 L226.2,270.4 L226.9,273.5 L227.6,275.2 L228.5,276.7 L229.7,278.3 L231.2,279.9 L232.8,281.3 L234.4,282.4 L235.8,283.0 L236.9,283.2 L237.7,283.0 L238.2,282.4 L238.6,281.6 L239.2,279.2 L239.9,281.0 L240.1,281.1 L240.4,280.9 L240.9,279.8 L241.6,276.3 L241.7,276.3 L242.2,277.0 L242.4,276.7 L242.6,276.0 L243.0,273.3 L243.3,269.3 L244.2,250.1 L244.4,252.3 L244.9,264.7 L245.4,268.9 L245.6,269.7 L245.8,269.9 L246.4,269.1 L247.1,268.6 L247.5,267.9 L248.1,265.5 L248.8,260.9 L249.4,255.6 L250.1,247.6 L250.4,246.2 L251.3,249.1 L252.1,257.5 L252.5,260.0 L252.8,260.4 L253.4,260.3 L253.9,257.8 L254.0,257.5 L254.1,257.6 L255.0,267.6 L255.3,270.1 L255.7,271.9 L256.3,273.4 L256.9,274.4 L257.8,275.0 L258.8,275.2 L259.6,274.9 L260.1,274.3 L260.9,272.1 L261.3,270.3 L261.8,263.0 L262.2,248.3 L262.9,263.3 L263.4,267.8 L263.5,268.1 L263.7,268.1 L264.1,267.4 L264.7,268.1 L264.9,267.7 L265.2,265.5 L265.8,258.9 L266.2,266.3 L266.6,270.0 L267.0,271.2 L267.3,271.2 L267.6,270.9 L267.7,271.0 L268.3,272.6 L268.5,273.1 L268.8,273.1 L269.2,272.4 L269.8,273.7 L270.1,273.9 L270.4,274.0 L271.4,273.6 L272.3,272.9 L272.9,271.9 L273.2,270.8 L273.7,265.6 L274.1,267.5 L274.7,266.3 L275.1,266.2 L275.3,265.5 L275.9,269.0 L276.0,269.1 L276.2,268.9 L276.5,270.6 L276.9,271.5 L277.2,271.9 L277.8,272.3 L279.3,272.8 L285.6,273.7 L288.5,273.9 L291.0,273.8 L293.9,273.3 L296.1,272.5 L298.4,270.8 L301.3,268.0 L303.5,265.4 L305.6,262.5 L309.1,256.6 L312.3,251.1 L313.8,248.8 L316.5,245.6 L318.1,244.1 L319.4,243.1 L321.4,241.9 L323.7,241.0 L325.7,240.5 L327.8,240.3 L330.0,240.4 L332.3,240.8 L334.4,241.5 L336.7,242.6 L339.3,244.3 L341.8,246.5 L344.0,248.8 L346.4,251.9 L350.4,257.7 L354.2,263.5 L357.4,269.2 L360.2,274.5 L362.9,280.4 L366.2,288.3 L372.9,305.7 L378.3,319.5 L398.3,368.4" fill="none" stroke="#262626" stroke-width="0.62" stroke-linejoin="round"/>
</g>
<rect x="224.5" y="268.2" width="5.6" height="5.2" fill="none" stroke="#e8292b" stroke-width="0.65" opacity="1.0"/>
<path d="M225.2,271.0L227.3,269.6L229.4,271.0L227.3,272.4ZM225.2,271.0h4.2" fill="none" stroke="#e8292b" stroke-width="0.55"/>
<rect x="231.8" y="279.3" width="6.2" height="4.4" fill="none" stroke="#e8292b" stroke-width="0.65" opacity="1.0"/>
<path d="M232.5,281.7L234.9,280.3L237.3,281.7L234.9,283.1ZM232.5,281.7h4.8" fill="none" stroke="#e8292b" stroke-width="0.55"/>
<rect x="239.1" y="267.1" width="5.1" height="9.6" fill="none" stroke="#e8292b" stroke-width="0.65" opacity="1.0"/>
<path d="M239.8,272.1L241.7,270.7L243.5,272.1L241.7,273.5ZM239.8,272.1h3.7" fill="none" stroke="#e8292b" stroke-width="0.55"/>
<rect x="248.8" y="255.7" width="5.6" height="7.3" fill="none" stroke="#e8292b" stroke-width="0.65" opacity="1.0"/>
<path d="M249.5,259.6L251.6,258.2L253.7,259.6L251.6,261.0ZM249.5,259.6h4.2" fill="none" stroke="#e8292b" stroke-width="0.55"/>
<rect x="281.7" y="271.4" width="6.2" height="3.8" fill="none" stroke="#e8292b" stroke-width="0.65" opacity="1.0"/>
<path d="M282.4,273.5L284.8,272.4L287.2,273.5L284.8,274.6ZM282.4,273.5h4.8" fill="none" stroke="#e8292b" stroke-width="0.55"/>
<rect x="315.5" y="246.9" width="6.0" height="10.0" fill="none" stroke="#e8292b" stroke-width="0.55" stroke-dasharray="1,0.8" opacity="0.7"/>
<rect x="339.4" y="247.0" width="6.0" height="10.6" fill="none" stroke="#e8292b" stroke-width="0.55" stroke-dasharray="1,0.8" opacity="0.7"/>
<rect x="315.5" y="241.0" width="6.0" height="11.4" fill="none" stroke="#3b3bd6" stroke-width="0.6" opacity="1.0"/>
<rect x="325.8" y="236.6" width="6.0" height="12.9" fill="none" stroke="#3b3bd6" stroke-width="0.6" opacity="1.0"/>
<rect x="339.7" y="242.9" width="6.0" height="9.8" fill="none" stroke="#3b3bd6" stroke-width="0.6" opacity="1.0"/>
<path d="M315.2,246.3L318.5,244.1L321.8,246.3L318.5,247.3Z" fill="#3a1fb0" fill-opacity="0.45" stroke="#3a1fb0" stroke-width="0.9"/>
<path d="M339.4,247.3L342.7,245.1L346.0,247.3L342.7,248.3Z" fill="#3a1fb0" fill-opacity="0.45" stroke="#3a1fb0" stroke-width="0.9"/>
<ellipse cx="328.8" cy="240.5" rx="2.5" ry="1.4" fill="none" stroke="#3a1fb0" stroke-width="0.8"/>
<rect x="353.3" y="267.7" width="6.0" height="4.8" fill="none" stroke="#3b3bd6" stroke-width="0.8" opacity="1.0"/>
<path d="M353.7,268.2L356.3,266.6L358.9,268.2L356.3,269.8ZM353.7,268.2h5.2" fill="none" stroke="#3b3bd6" stroke-width="0.75"/>
<path d="M363.5,288.0L366.5,285.9L369.5,288.0L366.5,290.1Z" fill="none" stroke="#3b3bd6" stroke-width="0.85"/>
<rect x="363.8" y="290.5" width="4.8" height="5.0" fill="none" stroke="#3b3bd6" stroke-width="0.6" stroke-dasharray="1,0.8" opacity="0.7"/>
<path d="M374.3,313.4L377.3,311.3L380.3,313.4L377.3,315.5Z" fill="none" stroke="#3b3bd6" stroke-width="0.85"/>
<rect x="374.6" y="315.0" width="4.8" height="5.0" fill="none" stroke="#3b3bd6" stroke-width="0.6" stroke-dasharray="1,0.8" opacity="0.7"/>
<rect x="222.1" y="204.1" width="176.2" height="171.1" fill="none" stroke="#333" stroke-width="0.85"/>
<path d="M230.8,375.2v-2.1M230.8,204.1v2.1M237.6,375.2v-2.1M237.6,204.1v2.1M243.1,375.2v-2.1M243.1,204.1v2.1M247.8,375.2v-2.1M247.8,204.1v2.1M251.9,375.2v-2.1M251.9,204.1v2.1M255.4,375.2v-2.1M255.4,204.1v2.1M258.6,375.2v-4.2M258.6,204.1v4.2M279.6,375.2v-2.1M279.6,204.1v2.1M291.9,375.2v-2.1M291.9,204.1v2.1M300.7,375.2v-2.1M300.7,204.1v2.1M307.4,375.2v-2.1M307.4,204.1v2.1M313.0,375.2v-2.1M313.0,204.1v2.1M317.6,375.2v-2.1M317.6,204.1v2.1M321.7,375.2v-2.1M321.7,204.1v2.1M325.3,375.2v-2.1M325.3,204.1v2.1M328.5,375.2v-4.2M328.5,204.1v4.2M349.5,375.2v-2.1M349.5,204.1v2.1M361.8,375.2v-2.1M361.8,204.1v2.1M370.5,375.2v-2.1M370.5,204.1v2.1M377.3,375.2v-2.1M377.3,204.1v2.1M382.8,375.2v-2.1M382.8,204.1v2.1M387.5,375.2v-2.1M387.5,204.1v2.1M391.5,375.2v-2.1M391.5,204.1v2.1M395.1,375.2v-2.1M395.1,204.1v2.1M222.1,362.3h2.1M398.3,362.3h-2.1M222.1,354.8h2.1M398.3,354.8h-2.1M222.1,349.4h2.1M398.3,349.4h-2.1M222.1,345.3h2.1M398.3,345.3h-2.1M222.1,341.9h2.1M398.3,341.9h-2.1M222.1,339.1h2.1M398.3,339.1h-2.1M222.1,336.6h2.1M398.3,336.6h-2.1M222.1,334.4h2.1M398.3,334.4h-2.1M222.1,332.4h4.2M398.3,332.4h-4.2M222.1,319.5h2.1M398.3,319.5h-2.1M222.1,312.0h2.1M398.3,312.0h-2.1M222.1,306.7h2.1M398.3,306.7h-2.1M222.1,302.5h2.1M398.3,302.5h-2.1M222.1,299.1h2.1M398.3,299.1h-2.1M222.1,296.3h2.1M398.3,296.3h-2.1M222.1,293.8h2.1M398.3,293.8h-2.1M222.1,291.6h2.1M398.3,291.6h-2.1M222.1,289.6h4.2M398.3,289.6h-4.2M222.1,276.8h2.1M398.3,276.8h-2.1M222.1,269.2h2.1M398.3,269.2h-2.1M222.1,263.9h2.1M398.3,263.9h-2.1M222.1,259.8h2.1M398.3,259.8h-2.1M222.1,256.4h2.1M398.3,256.4h-2.1M222.1,253.5h2.1M398.3,253.5h-2.1M222.1,251.0h2.1M398.3,251.0h-2.1M222.1,248.8h2.1M398.3,248.8h-2.1M222.1,246.9h4.2M398.3,246.9h-4.2M222.1,234.0h2.1M398.3,234.0h-2.1M222.1,226.5h2.1M398.3,226.5h-2.1M222.1,221.1h2.1M398.3,221.1h-2.1M222.1,217.0h2.1M398.3,217.0h-2.1M222.1,213.6h2.1M398.3,213.6h-2.1M222.1,210.7h2.1M398.3,210.7h-2.1M222.1,208.2h2.1M398.3,208.2h-2.1M222.1,206.1h2.1M398.3,206.1h-2.1" stroke="#222" stroke-width="0.7" fill="none"/>
<text x="225.1" y="212.1" font-size="6.70" fill="#3a3a3a" stroke="#3a3a3a" textLength="30.5" lengthAdjust="spacingAndGlyphs">NGC6946</text>
<text x="266.0" y="212.1" font-size="6.70" fill="#3a3a3a" stroke="#3a3a3a" textLength="40.8" lengthAdjust="spacingAndGlyphs">D=6.80 Mpc</text>
<text x="394.7" y="211.8" font-size="6.70" fill="#3a3a3a" stroke="#3a3a3a" text-anchor="end" textLength="51.5" lengthAdjust="spacingAndGlyphs">Sum_Over_Map</text>
<text x="394.6" y="219.8" font-size="6.70" fill="#e8292b" stroke="#e8292b" text-anchor="end" textLength="25.3" lengthAdjust="spacingAndGlyphs">Spitzer</text>
<text x="394.6" y="227.6" font-size="6.70" fill="#3b3bd6" stroke="#3b3bd6" text-anchor="end" textLength="30.9" lengthAdjust="spacingAndGlyphs">Herschel</text>
<text x="231.7" y="370.0" font-family="'Liberation Serif',serif" font-size="10.5" fill="#333">(e)</text>
<text x="260.4" y="333.0" font-size="6.372000000000001" fill="#3a3a3a" stroke="#3a3a3a">&lt;U<tspan font-size="4.21" dy="1.91">min</tspan></text>
<text x="280.4" y="333.0" font-size="5.90" fill="#3a3a3a" stroke="#3a3a3a" textLength="8.6" lengthAdjust="spacingAndGlyphs">&gt;=</text>
<text x="292.2" y="333.0" font-size="5.90" fill="#3a3a3a" stroke="#3a3a3a" textLength="13.8" lengthAdjust="spacingAndGlyphs">2.15</text>
<text x="260.4" y="339.8" font-size="6.372000000000001" fill="#3a3a3a" stroke="#3a3a3a">&lt;f<tspan font-size="4.21" dy="1.91">PDR</tspan></text>
<text x="280.4" y="339.8" font-size="5.90" fill="#3a3a3a" stroke="#3a3a3a" textLength="8.6" lengthAdjust="spacingAndGlyphs">&gt;=</text>
<text x="292.2" y="339.8" font-size="5.90" fill="#3a3a3a" stroke="#3a3a3a" textLength="13.8" lengthAdjust="spacingAndGlyphs">13.3</text>
<text x="310.4" y="339.8" font-size="5.90" fill="#3a3a3a" stroke="#3a3a3a">%</text>
<text x="260.4" y="346.6" font-size="6.372000000000001" fill="#3a3a3a" stroke="#3a3a3a">&lt;q<tspan font-size="4.21" dy="1.91">PAH</tspan></text>
<text x="280.4" y="346.6" font-size="5.90" fill="#3a3a3a" stroke="#3a3a3a" textLength="8.6" lengthAdjust="spacingAndGlyphs">&gt;=</text>
<text x="292.2" y="346.6" font-size="5.90" fill="#3a3a3a" stroke="#3a3a3a" textLength="13.8" lengthAdjust="spacingAndGlyphs">3.63</text>
<text x="310.4" y="346.6" font-size="5.90" fill="#3a3a3a" stroke="#3a3a3a">%</text>
<text x="266.0" y="353.3" font-size="6.372000000000001" fill="#3a3a3a" stroke="#3a3a3a">L<tspan font-size="4.21" dy="1.91">PDR</tspan></text>
<text x="284.2" y="353.3" font-size="5.90" fill="#3a3a3a" stroke="#3a3a3a" textLength="4.0" lengthAdjust="spacingAndGlyphs">=</text>
<text x="292.2" y="353.3" font-size="5.90" fill="#3a3a3a" stroke="#3a3a3a" textLength="13.8" lengthAdjust="spacingAndGlyphs">4.68</text>
<text x="310.4" y="353.3" font-size="6.20" fill="#3a3a3a" stroke="#3a3a3a" textLength="11.6" lengthAdjust="spacingAndGlyphs">x10</text>
<text x="322.4" y="351.2" font-size="4.13" fill="#3a3a3a" stroke="#3a3a3a" textLength="1.7" lengthAdjust="spacingAndGlyphs" style="stroke-width:.22px">9</text>
<text x="328.7" y="353.3" font-size="5.90" fill="#3a3a3a" stroke="#3a3a3a" textLength="2.9" lengthAdjust="spacingAndGlyphs">L</text>
<text x="332.1" y="355.3" font-size="3.66" fill="#3a3a3a" stroke="#3a3a3a" style="stroke-width:.2px">☉</text>
<text x="266.0" y="360.1" font-size="6.372000000000001" fill="#3a3a3a" stroke="#3a3a3a">L<tspan font-size="4.21" dy="1.91">dust</tspan></text>
<text x="284.2" y="360.1" font-size="5.90" fill="#3a3a3a" stroke="#3a3a3a" textLength="4.0" lengthAdjust="spacingAndGlyphs">=</text>
<text x="292.2" y="360.1" font-size="5.90" fill="#3a3a3a" stroke="#3a3a3a" textLength="13.8" lengthAdjust="spacingAndGlyphs">3.51</text>
<text x="310.4" y="360.1" font-size="6.20" fill="#3a3a3a" stroke="#3a3a3a" textLength="11.6" lengthAdjust="spacingAndGlyphs">x10</text>
<text x="322.4" y="358.0" font-size="4.13" fill="#3a3a3a" stroke="#3a3a3a" textLength="3.5" lengthAdjust="spacingAndGlyphs" style="stroke-width:.22px">10</text>
<text x="331.4" y="360.1" font-size="5.90" fill="#3a3a3a" stroke="#3a3a3a" textLength="2.9" lengthAdjust="spacingAndGlyphs">L</text>
<text x="334.8" y="362.1" font-size="3.66" fill="#3a3a3a" stroke="#3a3a3a" style="stroke-width:.2px">☉</text>
<text x="266.0" y="366.9" font-size="6.372000000000001" fill="#3a3a3a" stroke="#3a3a3a">M<tspan font-size="4.21" dy="1.91">dust</tspan></text>
<text x="284.2" y="366.9" font-size="5.90" fill="#3a3a3a" stroke="#3a3a3a" textLength="4.0" lengthAdjust="spacingAndGlyphs">=</text>
<text x="292.2" y="366.9" font-size="5.90" fill="#3a3a3a" stroke="#3a3a3a" textLength="13.8" lengthAdjust="spacingAndGlyphs">1.01</text>
<text x="310.4" y="366.9" font-size="6.20" fill="#3a3a3a" stroke="#3a3a3a" textLength="11.6" lengthAdjust="spacingAndGlyphs">x10</text>
<text x="322.4" y="364.8" font-size="4.13" fill="#3a3a3a" stroke="#3a3a3a" textLength="1.7" lengthAdjust="spacingAndGlyphs" style="stroke-width:.22px">8</text>
<text x="328.7" y="366.9" font-size="5.90" fill="#3a3a3a" stroke="#3a3a3a" textLength="3.5" lengthAdjust="spacingAndGlyphs">M</text>
<text x="332.7" y="368.9" font-size="3.66" fill="#3a3a3a" stroke="#3a3a3a" style="stroke-width:.2px">☉</text>
<text x="258.8" y="383.9" font-size="6.80" fill="#3a3a3a" stroke="#3a3a3a" text-anchor="middle" textLength="7.2" lengthAdjust="spacingAndGlyphs">10</text>
<text x="328.7" y="383.9" font-size="6.80" fill="#3a3a3a" stroke="#3a3a3a" text-anchor="middle" textLength="7.2" lengthAdjust="spacingAndGlyphs">10</text>
<text x="332.6" y="380.8" font-size="4.80" fill="#3a3a3a" stroke="#3a3a3a" textLength="2.6" lengthAdjust="spacingAndGlyphs" style="stroke-width:.25px">2</text>
<text x="398.5" y="383.9" font-size="6.80" fill="#3a3a3a" stroke="#3a3a3a" text-anchor="middle" textLength="7.2" lengthAdjust="spacingAndGlyphs">10</text>
<text x="402.4" y="380.8" font-size="4.80" fill="#3a3a3a" stroke="#3a3a3a" textLength="2.6" lengthAdjust="spacingAndGlyphs" style="stroke-width:.25px">3</text>
<text x="310.2" y="392.2" font-size="7.4" fill="#3a3a3a" stroke="#3a3a3a" text-anchor="middle" textLength="21.4" lengthAdjust="spacingAndGlyphs">λ(μm)</text>
<clipPath id="c12"><rect x="418.2" y="204.1" width="176.5" height="171.1"/></clipPath>
<g clip-path="url(#c12)">
<path d="M418.2,271.0 L424.0,279.8 L430.2,289.8 L444.4,313.4 L461.5,343.1 L482.9,381.2" fill="none" stroke="#27d9e4" stroke-width="0.9" stroke-linejoin="round"/>
<path d="M418.2,324.3 L418.8,322.1 L419.3,319.6 L420.0,313.0 L420.4,304.7 L420.9,284.6 L421.1,281.1 L421.8,303.5 L422.2,311.0 L422.5,314.2 L422.9,315.9 L423.4,316.9 L423.7,317.2 L424.0,317.2 L424.9,316.5 L426.1,315.1 L432.9,305.1 L434.4,302.4 L435.3,299.5 L435.4,299.4 L435.9,299.6 L436.4,299.1 L437.0,297.7 L437.7,295.2 L437.8,295.0 L438.2,294.9 L438.6,294.3 L439.1,292.2 L439.5,289.0 L440.3,276.3 L440.5,277.0 L441.2,286.4 L441.4,287.7 L441.6,288.0 L441.8,288.1 L443.5,286.0 L444.4,283.6 L445.4,279.2 L446.2,272.3 L446.5,271.3 L447.5,273.0 L448.2,277.6 L448.6,279.0 L448.9,279.3 L449.5,279.0 L450.1,277.4 L450.3,277.4 L451.0,281.4 L451.5,282.7 L451.9,283.3 L452.4,283.6 L453.0,283.8 L453.9,283.9 L455.3,283.8 L456.2,283.6 L457.1,282.9 L457.5,282.3 L457.7,281.2 L457.9,279.4 L458.3,271.3 L459.1,279.6 L459.4,281.0 L459.7,281.6 L460.3,281.4 L460.8,281.6 L461.1,281.4 L461.5,280.3 L462.0,277.6 L462.4,281.0 L462.8,282.4 L463.2,282.8 L463.9,282.7 L464.7,283.4 L465.0,283.4 L465.4,283.1 L465.9,283.4 L466.6,283.4 L468.5,282.7 L469.1,282.3 L469.4,281.9 L469.9,279.9 L470.3,280.6 L470.8,280.1 L471.3,280.0 L471.6,279.7 L472.0,280.9 L472.1,281.0 L472.4,280.9 L472.8,281.6 L473.2,281.8 L478.6,283.1 L481.5,284.1 L492.6,288.6 L499.0,291.7 L504.7,294.9 L532.2,311.5 L533.5,312.4 L534.6,313.4 L537.5,316.8 L540.7,321.3 L546.9,331.8 L551.1,339.5 L554.2,345.7 L558.2,354.5 L563.8,367.3 L569.7,381.2" fill="none" stroke="#8f2b2b" stroke-width="0.7" stroke-linejoin="round"/>
<path d="M418.2,322.2 L419.2,312.7 L419.8,300.5 L420.4,284.2 L420.9,259.4 L421.1,255.5 L422.1,294.7 L422.6,305.5 L423.2,314.2 L424.0,320.4 L424.9,324.3 L425.4,325.7 L426.0,326.6 L426.7,327.1 L427.5,327.2 L428.3,326.9 L429.0,326.4 L429.8,325.6 L430.6,324.6 L432.1,322.1 L433.2,319.0 L433.9,316.2 L434.4,313.1 L435.3,301.6 L435.4,301.8 L436.1,306.4 L436.2,306.6 L436.3,306.5 L436.6,305.5 L437.0,302.2 L437.6,294.3 L437.7,293.9 L437.8,293.8 L437.8,293.8 L438.2,295.1 L438.3,295.3 L438.4,295.2 L438.6,293.8 L438.9,291.1 L439.5,281.4 L440.3,256.5 L440.5,259.0 L441.2,277.5 L441.5,281.0 L441.8,282.5 L441.9,282.7 L442.0,282.6 L442.6,281.5 L443.3,280.7 L443.7,279.6 L444.0,277.8 L445.2,267.3 L446.2,253.9 L446.4,252.8 L446.5,252.5 L446.6,252.4 L447.5,255.7 L448.4,266.8 L448.7,269.3 L449.0,269.9 L449.3,270.0 L449.5,269.8 L450.1,266.5 L450.2,266.1 L450.3,266.3 L451.3,283.7 L451.7,287.7 L452.2,290.9 L452.8,293.2 L453.4,294.9 L454.1,295.9 L454.5,296.2 L454.9,296.2 L455.3,296.0 L455.6,295.6 L456.2,294.2 L457.1,288.8 L457.3,287.0 L457.9,276.0 L458.3,254.8 L459.2,275.4 L459.6,280.7 L459.7,281.2 L459.8,281.2 L460.3,280.0 L460.8,280.9 L461.1,280.3 L461.4,276.9 L462.0,267.7 L462.5,279.3 L462.9,284.6 L463.2,286.1 L463.4,286.1 L463.8,285.5 L463.9,285.7 L464.7,289.7 L464.9,289.9 L465.0,289.8 L465.4,288.5 L466.0,291.3 L466.3,291.7 L466.6,291.9 L467.0,291.9 L467.4,291.6 L468.3,290.5 L468.9,289.0 L469.3,286.9 L469.6,283.7 L469.9,277.7 L470.3,280.8 L470.9,278.8 L471.0,278.7 L471.3,278.7 L471.5,277.7 L472.0,283.3 L472.2,283.9 L472.4,283.5 L472.9,287.7 L473.2,289.0 L473.6,289.8 L474.4,290.7 L475.5,291.1 L478.2,291.4 L480.3,291.2 L481.6,290.8 L483.3,290.1 L487.5,287.4 L489.8,285.4 L491.9,283.0 L495.8,276.8 L499.2,270.8 L508.5,252.0 L510.6,248.9 L512.8,246.2 L514.4,244.7 L516.0,243.5 L517.9,242.5 L520.1,241.6 L522.0,241.1 L523.9,240.9 L525.8,241.0 L527.6,241.4 L530.7,242.6 L533.9,244.4 L536.8,246.8 L539.5,249.6 L543.0,254.1 L547.8,261.3 L551.0,266.6 L554.5,273.0 L557.8,279.8 L561.6,288.8 L568.4,306.6 L573.8,320.5 L594.7,371.6" fill="none" stroke="#2f7d22" stroke-width="0.65" stroke-linejoin="round"/>
<path d="M418.2,268.9 L418.9,269.2 L419.2,269.2 L419.4,269.0 L419.8,268.0 L420.1,266.5 L420.5,261.2 L421.0,248.0 L421.1,246.9 L421.9,266.5 L422.3,270.4 L423.0,273.5 L423.7,275.2 L424.6,276.7 L425.8,278.3 L427.3,279.9 L428.9,281.3 L430.5,282.4 L431.9,283.0 L433.1,283.2 L433.8,283.0 L434.4,282.4 L434.7,281.6 L435.3,279.2 L436.0,281.0 L436.3,281.1 L436.5,280.9 L437.0,279.8 L437.7,276.3 L437.8,276.3 L438.3,277.0 L438.5,276.7 L438.7,276.0 L439.1,273.3 L439.5,269.3 L440.3,250.1 L440.5,252.3 L441.1,264.7 L441.5,268.9 L441.7,269.7 L442.0,269.9 L442.6,269.1 L443.3,268.6 L443.6,267.9 L444.2,265.5 L445.0,260.9 L445.6,255.6 L446.2,247.6 L446.5,246.2 L447.5,249.1 L448.3,257.5 L448.6,259.7 L448.9,260.4 L449.3,260.4 L449.5,260.3 L450.1,257.8 L450.2,257.5 L450.3,257.6 L451.1,267.0 L451.5,270.5 L451.9,271.9 L452.4,273.2 L452.9,274.2 L453.5,274.8 L454.1,275.1 L454.8,275.2 L455.4,275.1 L455.9,274.8 L456.4,274.1 L457.1,272.1 L457.3,271.2 L457.7,268.2 L457.9,264.7 L458.3,248.3 L459.2,264.4 L459.4,267.1 L459.7,268.1 L459.8,268.1 L460.3,267.4 L460.8,268.0 L460.9,268.0 L461.1,267.7 L461.4,265.5 L462.0,258.9 L462.4,266.3 L462.8,270.0 L463.2,271.2 L463.4,271.2 L463.8,270.9 L463.9,271.0 L464.4,272.6 L464.8,273.1 L465.0,273.1 L465.4,272.4 L466.0,273.8 L466.3,274.0 L466.6,274.0 L467.6,273.7 L468.5,273.0 L469.1,272.1 L469.4,270.9 L469.9,265.8 L470.3,267.7 L470.9,266.4 L471.3,266.4 L471.5,265.7 L472.0,269.0 L472.2,269.4 L472.4,269.2 L473.0,271.7 L473.3,272.2 L473.8,272.6 L475.4,273.2 L479.7,274.0 L482.0,274.3 L484.5,274.3 L488.3,273.9 L489.7,273.6 L490.9,273.1 L493.3,271.6 L496.4,268.8 L498.8,266.1 L501.1,262.9 L504.8,257.0 L508.0,251.2 L509.7,248.8 L511.0,247.1 L512.5,245.5 L514.0,244.2 L515.3,243.1 L517.3,242.0 L519.7,241.1 L521.7,240.6 L523.7,240.4 L525.8,240.5 L527.7,241.0 L529.9,241.8 L532.2,242.9 L534.8,244.7 L537.3,246.8 L539.6,249.3 L542.0,252.4 L546.2,258.5 L549.6,263.9 L552.9,269.7 L555.8,275.2 L558.5,281.2 L561.7,288.7 L568.3,306.1 L573.8,320.0 L594.7,371.1" fill="none" stroke="#262626" stroke-width="0.62" stroke-linejoin="round"/>
</g>
<rect x="420.7" y="268.2" width="5.6" height="5.2" fill="none" stroke="#e8292b" stroke-width="0.65" opacity="1.0"/>
<path d="M421.4,271.0L423.5,269.6L425.6,271.0L423.5,272.4ZM421.4,271.0h4.2" fill="none" stroke="#e8292b" stroke-width="0.55"/>
<rect x="427.9" y="279.3" width="6.2" height="4.4" fill="none" stroke="#e8292b" stroke-width="0.65" opacity="1.0"/>
<path d="M428.6,281.7L431.0,280.3L433.4,281.7L431.0,283.1ZM428.6,281.7h4.8" fill="none" stroke="#e8292b" stroke-width="0.55"/>
<rect x="435.3" y="267.1" width="5.1" height="9.6" fill="none" stroke="#e8292b" stroke-width="0.65" opacity="1.0"/>
<path d="M436.0,272.1L437.8,270.7L439.7,272.1L437.8,273.5ZM436.0,272.1h3.7" fill="none" stroke="#e8292b" stroke-width="0.55"/>
<rect x="444.9" y="255.7" width="5.6" height="7.3" fill="none" stroke="#e8292b" stroke-width="0.65" opacity="1.0"/>
<path d="M445.6,259.6L447.7,258.2L449.8,259.6L447.7,261.0ZM445.6,259.6h4.2" fill="none" stroke="#e8292b" stroke-width="0.55"/>
<rect x="477.9" y="271.4" width="6.2" height="3.8" fill="none" stroke="#e8292b" stroke-width="0.65" opacity="1.0"/>
<path d="M478.6,273.5L481.0,272.4L483.4,273.5L481.0,274.6ZM478.6,273.5h4.8" fill="none" stroke="#e8292b" stroke-width="0.55"/>
<rect x="511.7" y="246.9" width="6.0" height="10.0" fill="none" stroke="#e8292b" stroke-width="0.65" opacity="1.0"/>
<rect x="535.7" y="247.0" width="6.0" height="10.6" fill="none" stroke="#e8292b" stroke-width="0.65" opacity="1.0"/>
<rect x="511.7" y="241.0" width="6.0" height="11.4" fill="none" stroke="#3b3bd6" stroke-width="0.6" opacity="1.0"/>
<rect x="522.1" y="236.6" width="6.0" height="12.9" fill="none" stroke="#3b3bd6" stroke-width="0.6" opacity="1.0"/>
<rect x="536.0" y="242.9" width="6.0" height="9.8" fill="none" stroke="#3b3bd6" stroke-width="0.6" opacity="1.0"/>
<path d="M511.4,246.0L514.7,243.8L518.0,246.0L514.7,247.0Z" fill="#3a1fb0" fill-opacity="0.45" stroke="#3a1fb0" stroke-width="0.9"/>
<path d="M535.7,248.5L539.0,246.3L542.3,248.5L539.0,249.5Z" fill="#3a1fb0" fill-opacity="0.45" stroke="#3a1fb0" stroke-width="0.9"/>
<ellipse cx="525.1" cy="240.6" rx="2.5" ry="1.4" fill="none" stroke="#3a1fb0" stroke-width="0.8"/>
<rect x="549.6" y="267.7" width="6.0" height="4.8" fill="none" stroke="#3b3bd6" stroke-width="0.8" opacity="1.0"/>
<path d="M550.0,269.2L552.6,267.6L555.2,269.2L552.6,270.8ZM550.0,269.2h5.2" fill="none" stroke="#3b3bd6" stroke-width="0.75"/>
<rect x="559.8" y="290.2" width="6.0" height="4.8" fill="none" stroke="#3b3bd6" stroke-width="0.8" opacity="1.0"/>
<path d="M560.2,291.6L562.8,290.0L565.4,291.6L562.8,293.2ZM560.2,291.6h5.2" fill="none" stroke="#3b3bd6" stroke-width="0.75"/>
<rect x="570.6" y="314.1" width="6.0" height="6.0" fill="none" stroke="#3b3bd6" stroke-width="0.8" opacity="1.0"/>
<path d="M571.0,316.1L573.6,314.5L576.2,316.1L573.6,317.7ZM571.0,316.1h5.2" fill="none" stroke="#3b3bd6" stroke-width="0.75"/>
<rect x="418.2" y="204.1" width="176.5" height="171.1" fill="none" stroke="#333" stroke-width="0.85"/>
<path d="M426.9,375.2v-2.1M426.9,204.1v2.1M433.7,375.2v-2.1M433.7,204.1v2.1M439.3,375.2v-2.1M439.3,204.1v2.1M443.9,375.2v-2.1M443.9,204.1v2.1M448.0,375.2v-2.1M448.0,204.1v2.1M451.6,375.2v-2.1M451.6,204.1v2.1M454.8,375.2v-4.2M454.8,204.1v4.2M475.8,375.2v-2.1M475.8,204.1v2.1M488.2,375.2v-2.1M488.2,204.1v2.1M496.9,375.2v-2.1M496.9,204.1v2.1M503.7,375.2v-2.1M503.7,204.1v2.1M509.2,375.2v-2.1M509.2,204.1v2.1M513.9,375.2v-2.1M513.9,204.1v2.1M518.0,375.2v-2.1M518.0,204.1v2.1M521.5,375.2v-2.1M521.5,204.1v2.1M524.7,375.2v-4.2M524.7,204.1v4.2M545.8,375.2v-2.1M545.8,204.1v2.1M558.1,375.2v-2.1M558.1,204.1v2.1M566.9,375.2v-2.1M566.9,204.1v2.1M573.6,375.2v-2.1M573.6,204.1v2.1M579.2,375.2v-2.1M579.2,204.1v2.1M583.9,375.2v-2.1M583.9,204.1v2.1M587.9,375.2v-2.1M587.9,204.1v2.1M591.5,375.2v-2.1M591.5,204.1v2.1M418.2,362.3h2.1M594.7,362.3h-2.1M418.2,354.8h2.1M594.7,354.8h-2.1M418.2,349.4h2.1M594.7,349.4h-2.1M418.2,345.3h2.1M594.7,345.3h-2.1M418.2,341.9h2.1M594.7,341.9h-2.1M418.2,339.1h2.1M594.7,339.1h-2.1M418.2,336.6h2.1M594.7,336.6h-2.1M418.2,334.4h2.1M594.7,334.4h-2.1M418.2,332.4h4.2M594.7,332.4h-4.2M418.2,319.5h2.1M594.7,319.5h-2.1M418.2,312.0h2.1M594.7,312.0h-2.1M418.2,306.7h2.1M594.7,306.7h-2.1M418.2,302.5h2.1M594.7,302.5h-2.1M418.2,299.1h2.1M594.7,299.1h-2.1M418.2,296.3h2.1M594.7,296.3h-2.1M418.2,293.8h2.1M594.7,293.8h-2.1M418.2,291.6h2.1M594.7,291.6h-2.1M418.2,289.6h4.2M594.7,289.6h-4.2M418.2,276.8h2.1M594.7,276.8h-2.1M418.2,269.2h2.1M594.7,269.2h-2.1M418.2,263.9h2.1M594.7,263.9h-2.1M418.2,259.8h2.1M594.7,259.8h-2.1M418.2,256.4h2.1M594.7,256.4h-2.1M418.2,253.5h2.1M594.7,253.5h-2.1M418.2,251.0h2.1M594.7,251.0h-2.1M418.2,248.8h2.1M594.7,248.8h-2.1M418.2,246.9h4.2M594.7,246.9h-4.2M418.2,234.0h2.1M594.7,234.0h-2.1M418.2,226.5h2.1M594.7,226.5h-2.1M418.2,221.1h2.1M594.7,221.1h-2.1M418.2,217.0h2.1M594.7,217.0h-2.1M418.2,213.6h2.1M594.7,213.6h-2.1M418.2,210.7h2.1M594.7,210.7h-2.1M418.2,208.2h2.1M594.7,208.2h-2.1M418.2,206.1h2.1M594.7,206.1h-2.1" stroke="#222" stroke-width="0.7" fill="none"/>
<text x="421.2" y="212.1" font-size="6.70" fill="#3a3a3a" stroke="#3a3a3a" textLength="30.5" lengthAdjust="spacingAndGlyphs">NGC6946</text>
<text x="462.1" y="212.1" font-size="6.70" fill="#3a3a3a" stroke="#3a3a3a" textLength="40.8" lengthAdjust="spacingAndGlyphs">D=6.80 Mpc</text>
<text x="591.1" y="211.8" font-size="6.70" fill="#3a3a3a" stroke="#3a3a3a" text-anchor="end" textLength="51.5" lengthAdjust="spacingAndGlyphs">Sum_Over_Map</text>
<text x="591.0" y="219.8" font-size="6.70" fill="#e8292b" stroke="#e8292b" text-anchor="end" textLength="25.3" lengthAdjust="spacingAndGlyphs">Spitzer</text>
<text x="591.0" y="227.6" font-size="6.70" fill="#3b3bd6" stroke="#3b3bd6" text-anchor="end" textLength="30.9" lengthAdjust="spacingAndGlyphs">Herschel</text>
<text x="427.8" y="370.0" font-family="'Liberation Serif',serif" font-size="10.5" fill="#333">(f)</text>
<text x="456.5" y="333.0" font-size="6.372000000000001" fill="#3a3a3a" stroke="#3a3a3a">&lt;U<tspan font-size="4.21" dy="1.91">min</tspan></text>
<text x="476.5" y="333.0" font-size="5.90" fill="#3a3a3a" stroke="#3a3a3a" textLength="8.6" lengthAdjust="spacingAndGlyphs">&gt;=</text>
<text x="488.3" y="333.0" font-size="5.90" fill="#3a3a3a" stroke="#3a3a3a" textLength="13.8" lengthAdjust="spacingAndGlyphs">2.79</text>
<text x="456.5" y="339.8" font-size="6.372000000000001" fill="#3a3a3a" stroke="#3a3a3a">&lt;f<tspan font-size="4.21" dy="1.91">PDR</tspan></text>
<text x="476.5" y="339.8" font-size="5.90" fill="#3a3a3a" stroke="#3a3a3a" textLength="8.6" lengthAdjust="spacingAndGlyphs">&gt;=</text>
<text x="488.3" y="339.8" font-size="5.90" fill="#3a3a3a" stroke="#3a3a3a" textLength="13.8" lengthAdjust="spacingAndGlyphs">14.0</text>
<text x="506.5" y="339.8" font-size="5.90" fill="#3a3a3a" stroke="#3a3a3a">%</text>
<text x="456.5" y="346.6" font-size="6.372000000000001" fill="#3a3a3a" stroke="#3a3a3a">&lt;q<tspan font-size="4.21" dy="1.91">PAH</tspan></text>
<text x="476.5" y="346.6" font-size="5.90" fill="#3a3a3a" stroke="#3a3a3a" textLength="8.6" lengthAdjust="spacingAndGlyphs">&gt;=</text>
<text x="488.3" y="346.6" font-size="5.90" fill="#3a3a3a" stroke="#3a3a3a" textLength="13.8" lengthAdjust="spacingAndGlyphs">3.58</text>
<text x="506.5" y="346.6" font-size="5.90" fill="#3a3a3a" stroke="#3a3a3a">%</text>
<text x="462.1" y="353.3" font-size="6.372000000000001" fill="#3a3a3a" stroke="#3a3a3a">L<tspan font-size="4.21" dy="1.91">PDR</tspan></text>
<text x="480.3" y="353.3" font-size="5.90" fill="#3a3a3a" stroke="#3a3a3a" textLength="4.0" lengthAdjust="spacingAndGlyphs">=</text>
<text x="488.3" y="353.3" font-size="5.90" fill="#3a3a3a" stroke="#3a3a3a" textLength="13.8" lengthAdjust="spacingAndGlyphs">4.66</text>
<text x="506.5" y="353.3" font-size="6.20" fill="#3a3a3a" stroke="#3a3a3a" textLength="11.6" lengthAdjust="spacingAndGlyphs">x10</text>
<text x="518.5" y="351.2" font-size="4.13" fill="#3a3a3a" stroke="#3a3a3a" textLength="1.7" lengthAdjust="spacingAndGlyphs" style="stroke-width:.22px">9</text>
<text x="524.8" y="353.3" font-size="5.90" fill="#3a3a3a" stroke="#3a3a3a" textLength="2.9" lengthAdjust="spacingAndGlyphs">L</text>
<text x="528.2" y="355.3" font-size="3.66" fill="#3a3a3a" stroke="#3a3a3a" style="stroke-width:.2px">☉</text>
<text x="462.1" y="360.1" font-size="6.372000000000001" fill="#3a3a3a" stroke="#3a3a3a">L<tspan font-size="4.21" dy="1.91">dust</tspan></text>
<text x="480.3" y="360.1" font-size="5.90" fill="#3a3a3a" stroke="#3a3a3a" textLength="4.0" lengthAdjust="spacingAndGlyphs">=</text>
<text x="488.3" y="360.1" font-size="5.90" fill="#3a3a3a" stroke="#3a3a3a" textLength="13.8" lengthAdjust="spacingAndGlyphs">3.32</text>
<text x="506.5" y="360.1" font-size="6.20" fill="#3a3a3a" stroke="#3a3a3a" textLength="11.6" lengthAdjust="spacingAndGlyphs">x10</text>
<text x="518.5" y="358.0" font-size="4.13" fill="#3a3a3a" stroke="#3a3a3a" textLength="3.5" lengthAdjust="spacingAndGlyphs" style="stroke-width:.22px">10</text>
<text x="527.5" y="360.1" font-size="5.90" fill="#3a3a3a" stroke="#3a3a3a" textLength="2.9" lengthAdjust="spacingAndGlyphs">L</text>
<text x="530.9" y="362.1" font-size="3.66" fill="#3a3a3a" stroke="#3a3a3a" style="stroke-width:.2px">☉</text>
<text x="462.1" y="366.9" font-size="6.372000000000001" fill="#3a3a3a" stroke="#3a3a3a">M<tspan font-size="4.21" dy="1.91">dust</tspan></text>
<text x="480.3" y="366.9" font-size="5.90" fill="#3a3a3a" stroke="#3a3a3a" textLength="4.0" lengthAdjust="spacingAndGlyphs">=</text>
<text x="488.3" y="366.9" font-size="5.90" fill="#3a3a3a" stroke="#3a3a3a" textLength="13.8" lengthAdjust="spacingAndGlyphs">7.39</text>
<text x="506.5" y="366.9" font-size="6.20" fill="#3a3a3a" stroke="#3a3a3a" textLength="11.6" lengthAdjust="spacingAndGlyphs">x10</text>
<text x="518.5" y="364.8" font-size="4.13" fill="#3a3a3a" stroke="#3a3a3a" textLength="1.7" lengthAdjust="spacingAndGlyphs" style="stroke-width:.22px">7</text>
<text x="524.8" y="366.9" font-size="5.90" fill="#3a3a3a" stroke="#3a3a3a" textLength="3.5" lengthAdjust="spacingAndGlyphs">M</text>
<text x="528.8" y="368.9" font-size="3.66" fill="#3a3a3a" stroke="#3a3a3a" style="stroke-width:.2px">☉</text>
<text x="455.0" y="383.9" font-size="6.80" fill="#3a3a3a" stroke="#3a3a3a" text-anchor="middle" textLength="7.2" lengthAdjust="spacingAndGlyphs">10</text>
<text x="524.9" y="383.9" font-size="6.80" fill="#3a3a3a" stroke="#3a3a3a" text-anchor="middle" textLength="7.2" lengthAdjust="spacingAndGlyphs">10</text>
<text x="528.8" y="380.8" font-size="4.80" fill="#3a3a3a" stroke="#3a3a3a" textLength="2.6" lengthAdjust="spacingAndGlyphs" style="stroke-width:.25px">2</text>
<text x="594.9" y="383.9" font-size="6.80" fill="#3a3a3a" stroke="#3a3a3a" text-anchor="middle" textLength="7.2" lengthAdjust="spacingAndGlyphs">10</text>
<text x="598.8" y="380.8" font-size="4.80" fill="#3a3a3a" stroke="#3a3a3a" textLength="2.6" lengthAdjust="spacingAndGlyphs" style="stroke-width:.25px">3</text>
<text x="506.5" y="392.2" font-size="7.4" fill="#3a3a3a" stroke="#3a3a3a" text-anchor="middle" textLength="21.4" lengthAdjust="spacingAndGlyphs">λ(μm)</text>
</svg>
</body></html>
